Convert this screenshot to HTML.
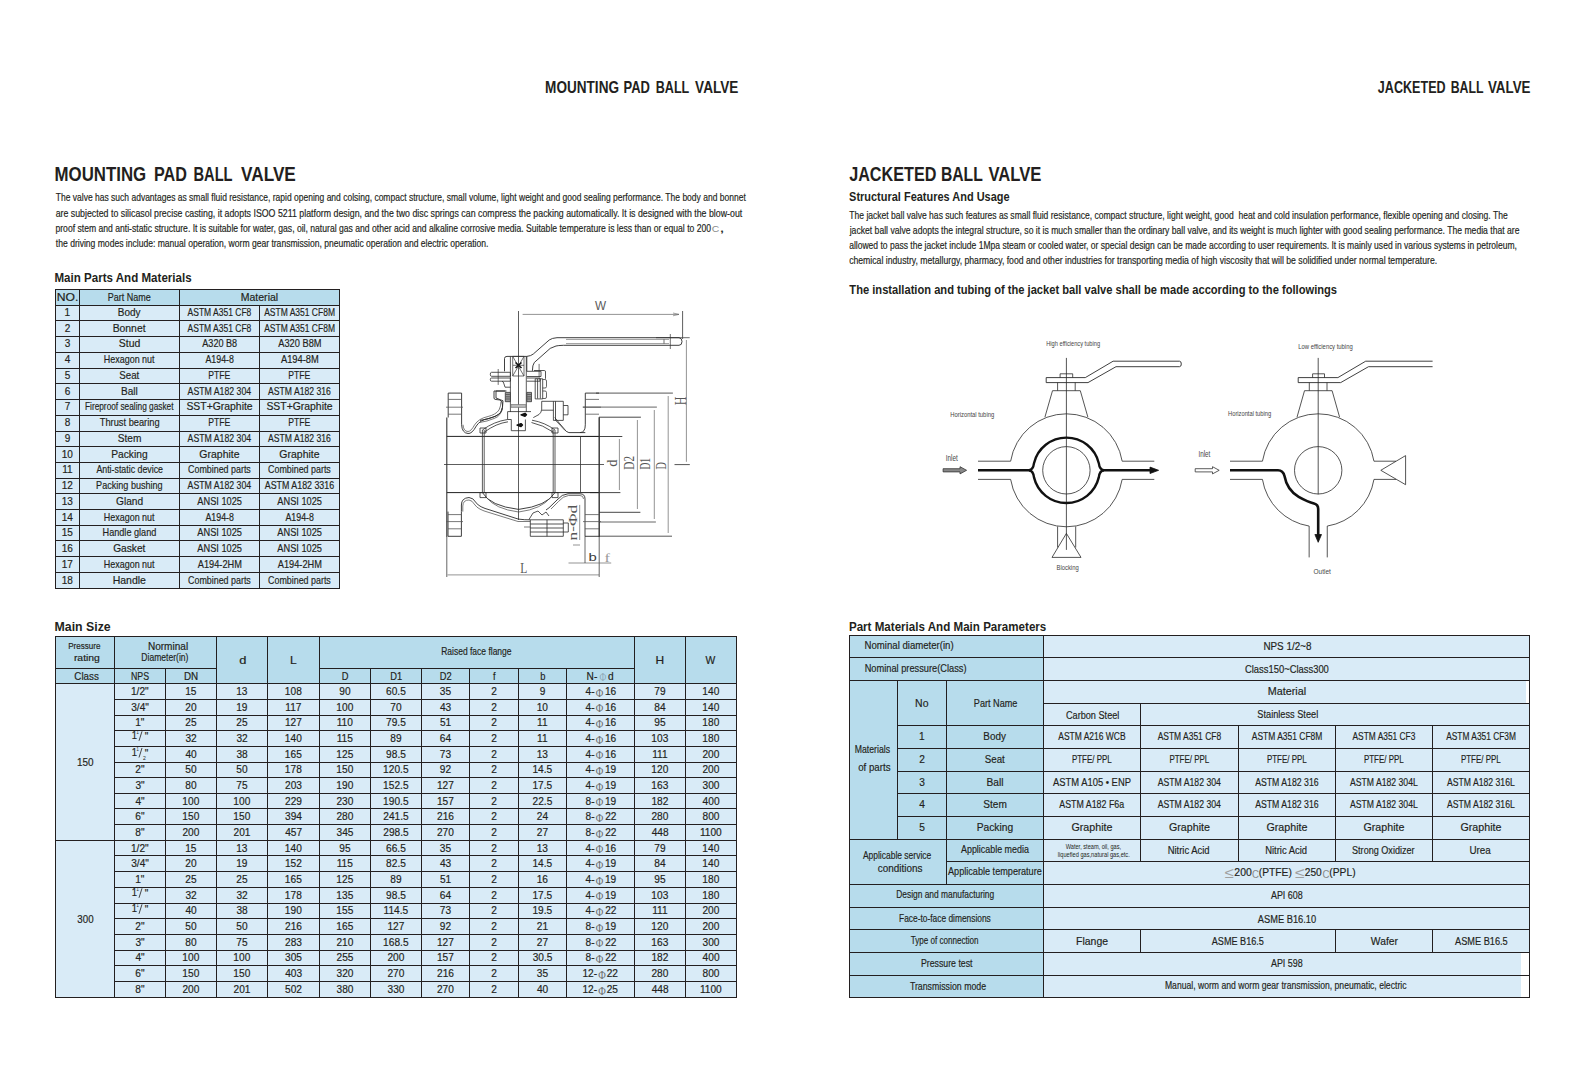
<!DOCTYPE html><html><head><meta charset="utf-8"><style>html,body{margin:0;padding:0;background:#fff;}body{width:1585px;height:1069px;overflow:hidden;position:relative;}svg{position:absolute;left:0;top:0;}text{white-space:pre;}</style></head><body>
<svg width="1585" height="1069" viewBox="0 0 1585 1069">
<rect x="55.00" y="289.00" width="284.00" height="16.00" fill="#b7dcec"/>
<rect x="55.00" y="305.00" width="284.00" height="283.00" fill="#d9ebf7"/>
<rect x="55.00" y="636.00" width="681.00" height="47.00" fill="#b7dcec"/>
<rect x="55.00" y="683.00" width="681.00" height="314.00" fill="#d9ebf7"/>
<rect x="849.00" y="635.00" width="194.00" height="362.00" fill="#b7dcec"/>
<rect x="1043.00" y="635.00" width="486.00" height="362.00" fill="#d9ebf7"/>
<rect x="1526.00" y="681.00" width="3.00" height="22.00" fill="#ffffff"/>
<rect x="1521.00" y="953.00" width="8.00" height="44.00" fill="#ffffff"/>
<rect x="55" y="289" width="285" height="1" fill="#231f20"/>
<rect x="55" y="305" width="285" height="1" fill="#231f20"/>
<rect x="55" y="320" width="285" height="1" fill="#231f20"/>
<rect x="55" y="336" width="285" height="1" fill="#231f20"/>
<rect x="55" y="352" width="285" height="1" fill="#231f20"/>
<rect x="55" y="368" width="285" height="1" fill="#231f20"/>
<rect x="55" y="383" width="285" height="1" fill="#231f20"/>
<rect x="55" y="399" width="285" height="1" fill="#231f20"/>
<rect x="55" y="415" width="285" height="1" fill="#231f20"/>
<rect x="55" y="431" width="285" height="1" fill="#231f20"/>
<rect x="55" y="446" width="285" height="1" fill="#231f20"/>
<rect x="55" y="462" width="285" height="1" fill="#231f20"/>
<rect x="55" y="478" width="285" height="1" fill="#231f20"/>
<rect x="55" y="493" width="285" height="1" fill="#231f20"/>
<rect x="55" y="509" width="285" height="1" fill="#231f20"/>
<rect x="55" y="525" width="285" height="1" fill="#231f20"/>
<rect x="55" y="540" width="285" height="1" fill="#231f20"/>
<rect x="55" y="556" width="285" height="1" fill="#231f20"/>
<rect x="55" y="572" width="285" height="1" fill="#231f20"/>
<rect x="55" y="588" width="285" height="1" fill="#231f20"/>
<rect x="55" y="289" width="1" height="300" fill="#231f20"/>
<rect x="79" y="289" width="1" height="300" fill="#231f20"/>
<rect x="179" y="289" width="1" height="300" fill="#231f20"/>
<rect x="259" y="305" width="1" height="284" fill="#231f20"/>
<rect x="339" y="289" width="1" height="300" fill="#231f20"/>
<rect x="55" y="636" width="682" height="1" fill="#231f20"/>
<rect x="55" y="997" width="682" height="1" fill="#231f20"/>
<rect x="55" y="668" width="162" height="1" fill="#231f20"/>
<rect x="319" y="668" width="316" height="1" fill="#231f20"/>
<rect x="55" y="683" width="682" height="1" fill="#231f20"/>
<rect x="114" y="699" width="623" height="1" fill="#231f20"/>
<rect x="114" y="715" width="623" height="1" fill="#231f20"/>
<rect x="114" y="730" width="623" height="1" fill="#231f20"/>
<rect x="114" y="746" width="623" height="1" fill="#231f20"/>
<rect x="114" y="762" width="623" height="1" fill="#231f20"/>
<rect x="114" y="777" width="623" height="1" fill="#231f20"/>
<rect x="114" y="793" width="623" height="1" fill="#231f20"/>
<rect x="114" y="808" width="623" height="1" fill="#231f20"/>
<rect x="114" y="824" width="623" height="1" fill="#231f20"/>
<rect x="55" y="840" width="682" height="1" fill="#231f20"/>
<rect x="114" y="855" width="623" height="1" fill="#231f20"/>
<rect x="114" y="871" width="623" height="1" fill="#231f20"/>
<rect x="114" y="887" width="623" height="1" fill="#231f20"/>
<rect x="114" y="903" width="623" height="1" fill="#231f20"/>
<rect x="114" y="918" width="623" height="1" fill="#231f20"/>
<rect x="114" y="934" width="623" height="1" fill="#231f20"/>
<rect x="114" y="950" width="623" height="1" fill="#231f20"/>
<rect x="114" y="965" width="623" height="1" fill="#231f20"/>
<rect x="114" y="981" width="623" height="1" fill="#231f20"/>
<rect x="55" y="636" width="1" height="362" fill="#231f20"/>
<rect x="114" y="636" width="1" height="362" fill="#231f20"/>
<rect x="216" y="636" width="1" height="362" fill="#231f20"/>
<rect x="267" y="636" width="1" height="362" fill="#231f20"/>
<rect x="319" y="636" width="1" height="362" fill="#231f20"/>
<rect x="634" y="636" width="1" height="362" fill="#231f20"/>
<rect x="685" y="636" width="1" height="362" fill="#231f20"/>
<rect x="736" y="636" width="1" height="362" fill="#231f20"/>
<rect x="165" y="668" width="1" height="330" fill="#231f20"/>
<rect x="370" y="668" width="1" height="330" fill="#231f20"/>
<rect x="421" y="668" width="1" height="330" fill="#231f20"/>
<rect x="469" y="668" width="1" height="330" fill="#231f20"/>
<rect x="518" y="668" width="1" height="330" fill="#231f20"/>
<rect x="566" y="668" width="1" height="330" fill="#231f20"/>
<line x1="142.00" y1="731.30" x2="139.00" y2="740.80" stroke="#333" stroke-width="0.9"/>
<line x1="142.00" y1="748.00" x2="139.00" y2="757.50" stroke="#333" stroke-width="0.9"/>
<line x1="142.00" y1="888.30" x2="139.00" y2="897.80" stroke="#333" stroke-width="0.9"/>
<line x1="142.00" y1="904.30" x2="139.00" y2="913.80" stroke="#333" stroke-width="0.9"/>
<rect x="849" y="635" width="681" height="1" fill="#231f20"/>
<rect x="849" y="657" width="681" height="1" fill="#231f20"/>
<rect x="849" y="680" width="681" height="1" fill="#231f20"/>
<rect x="849" y="839" width="681" height="1" fill="#231f20"/>
<rect x="849" y="884" width="681" height="1" fill="#231f20"/>
<rect x="849" y="907" width="681" height="1" fill="#231f20"/>
<rect x="849" y="929" width="681" height="1" fill="#231f20"/>
<rect x="849" y="952" width="681" height="1" fill="#231f20"/>
<rect x="849" y="975" width="681" height="1" fill="#231f20"/>
<rect x="849" y="997" width="681" height="1" fill="#231f20"/>
<rect x="1043" y="703" width="487" height="1" fill="#231f20"/>
<rect x="897" y="725" width="633" height="1" fill="#231f20"/>
<rect x="897" y="748" width="633" height="1" fill="#231f20"/>
<rect x="897" y="771" width="633" height="1" fill="#231f20"/>
<rect x="897" y="793" width="633" height="1" fill="#231f20"/>
<rect x="897" y="816" width="633" height="1" fill="#231f20"/>
<rect x="946" y="861" width="584" height="1" fill="#231f20"/>
<rect x="849" y="635" width="1" height="363" fill="#231f20"/>
<rect x="1529" y="635" width="1" height="363" fill="#231f20"/>
<rect x="1043" y="635" width="1" height="363" fill="#231f20"/>
<rect x="897" y="680" width="1" height="160" fill="#231f20"/>
<rect x="946" y="680" width="1" height="205" fill="#231f20"/>
<rect x="1140" y="703" width="1" height="159" fill="#231f20"/>
<rect x="1140" y="929" width="1" height="24" fill="#231f20"/>
<rect x="1238" y="725" width="1" height="137" fill="#231f20"/>
<rect x="1335" y="725" width="1" height="137" fill="#231f20"/>
<rect x="1432" y="725" width="1" height="137" fill="#231f20"/>
<rect x="1335" y="929" width="1" height="24" fill="#231f20"/>
<rect x="1432" y="929" width="1" height="24" fill="#231f20"/>
<path d="M518.5 311 V520" fill="none" stroke="#333" stroke-width="0.8" stroke-linejoin="round" />
<path d="M444 464.5 H604" fill="none" stroke="#333" stroke-width="0.8" stroke-linejoin="round" />
<path d="M522.6 314.4 H679" fill="none" stroke="#666" stroke-width="0.7" stroke-linejoin="round" />
<path d="M673 313 L679 314.4 L673 315.8" fill="none" stroke="#666" stroke-width="0.6" stroke-linejoin="round" />
<path d="M682.6 311 V339" fill="none" stroke="#333" stroke-width="0.8" stroke-linejoin="round" />
<path d="M686.4 340 V461.8" fill="none" stroke="#666" stroke-width="0.7" stroke-linejoin="round" />
<path d="M656 337.7 H689.7" fill="none" stroke="#444" stroke-width="0.8" stroke-linejoin="round" />
<path d="M674.5 464.6 H689.8" fill="none" stroke="#555" stroke-width="1.0" stroke-linejoin="round" />
<path d="M596 393.1 H672.9 M599 536.2 H672" fill="none" stroke="#444" stroke-width="0.9" stroke-linejoin="round" />
<path d="M668.2 396 V533" fill="none" stroke="#666" stroke-width="0.7" stroke-linejoin="round" />
<path d="M582.7 407.1 H656.9 M599 522 H655.9" fill="none" stroke="#555" stroke-width="0.9" stroke-linejoin="round" />
<path d="M654.3 410 V519" fill="none" stroke="#666" stroke-width="0.7" stroke-linejoin="round" />
<path d="M599 417.2 H640.9 M599 512.3 H640.4" fill="none" stroke="#333" stroke-width="0.9" stroke-linejoin="round" />
<path d="M637.4 420 V509" fill="none" stroke="#666" stroke-width="0.7" stroke-linejoin="round" />
<path d="M560 436.5 H622.3 M590 492.6 H620.4" fill="none" stroke="#333" stroke-width="0.9" stroke-linejoin="round" />
<path d="M619.4 439 V490" fill="none" stroke="#666" stroke-width="0.7" stroke-linejoin="round" />
<path d="M447.5 574.9 H599" fill="none" stroke="#666" stroke-width="0.7" stroke-linejoin="round" />
<path d="M446.8 537 V577 M599.2 537 V577" fill="none" stroke="#555" stroke-width="0.9" stroke-linejoin="round" />
<path d="M568.5 563 H611.2" fill="none" stroke="#666" stroke-width="0.7" stroke-linejoin="round" />
<path d="M585 536.3 V563" fill="none" stroke="#444" stroke-width="0.8" stroke-linejoin="round" />
<path d="M579.7 504.9 V540" fill="none" stroke="#666" stroke-width="0.7" stroke-linejoin="round" />
<path d="M573 545 H580" fill="none" stroke="#666" stroke-width="0.7" stroke-linejoin="round" />
<path d="M446.8 436.4 H599.2 M446.8 492.6 H599.2" fill="none" stroke="#222" stroke-width="1.0" stroke-linejoin="round" />
<path d="M580.5 436.4 V492.6" fill="none" stroke="#333" stroke-width="0.8" stroke-linejoin="round" />
<path d="M599.2 417.2 V537" fill="none" stroke="#333" stroke-width="1.4" stroke-linejoin="round" />
<path d="M446.8 417.5 V537" fill="none" stroke="#333" stroke-width="1.1" stroke-linejoin="round" />
<path d="M448.2 393.1 V417.5 M461.6 393.1 V424.7 M448.2 393.1 H461.6" fill="none" stroke="#2a2a2a" stroke-width="0.9" stroke-linejoin="round" />
<path d="M448.2 399.4 H461.6 M446 407.2 H463 M448.2 414.2 H461.6" fill="none" stroke="#555" stroke-width="0.8" stroke-linejoin="round" />
<path d="M448 511.6 V536.3 H461.4 V511.6" fill="none" stroke="#2a2a2a" stroke-width="0.9" stroke-linejoin="round" />
<path d="M448 514.6 H461.4 M446 521.6 H463 M448 528.8 H461.4" fill="none" stroke="#555" stroke-width="0.8" stroke-linejoin="round" />
<path d="M585.3 393.1 V424.8 M599 393.1 H585.3" fill="none" stroke="#2a2a2a" stroke-width="0.9" stroke-linejoin="round" />
<path d="M585.3 399.4 H599 M583 407.2 H601 M585.3 414.2 H599" fill="none" stroke="#555" stroke-width="0.8" stroke-linejoin="round" />
<path d="M585 498.9 V536.3 H599" fill="none" stroke="#2a2a2a" stroke-width="0.9" stroke-linejoin="round" />
<path d="M585 514.6 H599 M583 521.6 H601 M585 528.8 H599" fill="none" stroke="#555" stroke-width="0.8" stroke-linejoin="round" />
<path d="M461.4 511.6 V505 Q461.4 498 469 497.5 Q473 497.5 476.4 503 Q479 507 490 510 L518.3 519.1 Q526 520 528.8 519.8 L530.3 519.8" fill="none" stroke="#2a2a2a" stroke-width="0.9" stroke-linejoin="round" />
<path d="M462.8 511.6 V506 Q463 500 469 500 Q472 500 475 505 Q478 509.5 489 512.5 L518 521.5 L530.3 521.5" fill="none" stroke="#444" stroke-width="0.7" stroke-linejoin="round" />
<path d="M461.6 424.7 Q462 433 468 433.5 Q472 434 476.3 426 Q480 420 488.9 418.4 Q497 416.5 500.9 412.1 Q503 408 503 400.8 L496 398 L496 391 H506.5" fill="none" stroke="#2a2a2a" stroke-width="0.9" stroke-linejoin="round" />
<path d="M463 424.7 Q463.5 431.5 468 431.5 Q471 431.5 474.5 425 Q478.5 418.5 488 416.5 Q496 414.5 499 410 Q501 406 501 401.5" fill="none" stroke="#444" stroke-width="0.7" stroke-linejoin="round" />
<path d="M585.3 424.8 Q585.3 432.6 580 432.6" fill="none" stroke="#2a2a2a" stroke-width="0.9" stroke-linejoin="round" />
<path d="M585 498.9 Q585 493.8 580 493.8 L568 493.8 Q562 494 557 500 L549 507.8 L546 510" fill="none" stroke="#2a2a2a" stroke-width="0.9" stroke-linejoin="round" />
<path d="M583.5 498.9 Q583.5 495.5 580 495.5 L568.5 495.5 Q563 496 558.5 501.5 L551 509" fill="none" stroke="#444" stroke-width="0.7" stroke-linejoin="round" />
<path d="M482.4 430 V492.6 M484.2 430 V492.6 M553.2 430 V492.6 M555 430 V492.6" fill="none" stroke="#333" stroke-width="0.8" stroke-linejoin="round" />
<path d="M482.4 492.6 Q490 506 518.6 509.4 Q547 506 555 492.6" fill="none" stroke="#2a2a2a" stroke-width="0.9" stroke-linejoin="round" />
<path d="M486 497 Q495 509 518.6 512 Q542 509 551 497" fill="none" stroke="#444" stroke-width="0.7" stroke-linejoin="round" />
<path d="M482.4 430 Q494 421.5 507.6 419.5 M484.5 432 Q496 423.5 508 421.8 M532 420.2 Q545 422.5 555 430 M531.5 422.5 Q543 425 553 432" fill="none" stroke="#2a2a2a" stroke-width="0.8" stroke-linejoin="round" />
<path d="M480 428 h6 v5 h-6 z M552 428 h6 v5 h-6 z M480 492.6 h6 v5 h-6 z M552 492.6 h6 v5 h-6 z" fill="none" stroke="#2a2a2a" stroke-width="0.8" stroke-linejoin="round" />
<path d="M504.5 371.3 V358.5 Q504.5 356.4 507 356.4 H526.8 V371.3" fill="none" stroke="#2a2a2a" stroke-width="0.9" stroke-linejoin="round" />
<path d="M512.7 356.4 V376 H524 V356.4 Z M512.7 356.4 L524 376 M524 356.4 L512.7 376 M513 365.3 H524" fill="none" stroke="#333" stroke-width="0.7" stroke-linejoin="round" />
<path d="M515.5 362.5 L521.5 368 M521.5 362.5 L515.5 368" fill="none" stroke="#111" stroke-width="1.6" stroke-linejoin="round" />
<path d="M510.4 356.4 V412 M526.3 356.4 V412" fill="none" stroke="#333" stroke-width="0.8" stroke-linejoin="round" />
<path d="M491.5 372.3 H510.4 V376.3 H491.5 Q490.3 376.3 490.3 374.3 Q490.3 372.3 491.5 372.3 Z" fill="none" stroke="#2a2a2a" stroke-width="0.8" stroke-linejoin="round" />
<path d="M491.5 378 H510.4 V381.2 H491.5 Q490.3 381.2 490.3 379.6 Q490.3 378 491.5 378 Z" fill="none" stroke="#2a2a2a" stroke-width="0.8" stroke-linejoin="round" />
<path d="M498.2 369 V384.9" fill="none" stroke="#333" stroke-width="0.7" stroke-linejoin="round" />
<path d="M502 381.2 Q503.5 381.5 504 384 L505 387.2 H510.4" fill="none" stroke="#2a2a2a" stroke-width="0.8" stroke-linejoin="round" />
<path d="M526.8 371.3 H541 V376.5 H526.8 M526.8 378 H540 V381.2 H526.8" fill="none" stroke="#2a2a2a" stroke-width="0.8" stroke-linejoin="round" />
<path d="M534 370.5 H544.5 Q545.5 370.5 545.5 372 V378.8" fill="none" stroke="#2a2a2a" stroke-width="0.8" stroke-linejoin="round" />
<path d="M539.1 363.9 V377" fill="none" stroke="#333" stroke-width="0.7" stroke-linejoin="round" />
<path d="M535.2 378.8 H542.7 V398.9 H535.2 Z M537.6 379 V398.5 M540.3 379 V398.5" fill="none" stroke="#2a2a2a" stroke-width="0.8" stroke-linejoin="round" />
<path d="M542.7 379.5 H545 Q546.5 379.5 546.5 381 V386.5 Q546.5 388 545 388 H542.7 M542.7 391 H545 Q546.5 391 546.5 392.5 V397 Q546.5 398.5 545 398.5 H542.7" fill="none" stroke="#2a2a2a" stroke-width="0.7" stroke-linejoin="round" />
<path d="M505.3 391 H494 V398 Q494 399.5 496 399.5 L500 400 Q502.5 401 502.5 405 V407.4 Q502 413 496 416 Q488 419.5 480 420.4" fill="none" stroke="#2a2a2a" stroke-width="0.9" stroke-linejoin="round" />
<path d="M502.5 407.4 Q501.5 416 494 418.5 Q487 421.5 480 422.4" fill="none" stroke="#444" stroke-width="0.7" stroke-linejoin="round" />
<path d="M505.3 392.4 h5.1 v9.3 h-5.1 z M526.8 392.4 h4.7 v9.3 h-4.7 z" fill="#999" stroke="#333" stroke-width="0.8" stroke-linejoin="round" />
<path d="M505.8 394.5 h4 M505.8 396.8 h4 M505.8 399 h4 M527.3 394.5 h3.7 M527.3 396.8 h3.7 M527.3 399 h3.7" fill="none" stroke="#222" stroke-width="0.5" stroke-linejoin="round" />
<path d="M510.9 404.5 h14.9 v2.9 h-14.9 z" fill="#bbb" stroke="#666" stroke-width="0.6" stroke-linejoin="round" />
<path d="M507.6 411.6 H531 M507.6 411.6 V419.5 H511.3 V430.7 H525.4 V419.5" fill="none" stroke="#2a2a2a" stroke-width="0.8" stroke-linejoin="round" />
<path d="M521 414.8 l4 -1.5 l1.5 1.5 l-1.5 1.5 z M517 425.1 l4 -1.5 l1.5 1.5 l-1.5 1.5 z" fill="#111" stroke="#111" stroke-width="1.4" stroke-linejoin="round" />
<path d="M541.7 401.3 H563.3 V420.4 H553.4 V401.3 M541.7 410.2 H553.4 M563.3 405.5 H568 V414.8 H563.3 M555.5 401.3 V420.4" fill="none" stroke="#2a2a2a" stroke-width="0.8" stroke-linejoin="round" />
<path d="M541.7 401.3 V409.2 Q541.5 412.5 539 414.5 L533.3 417.6" fill="none" stroke="#2a2a2a" stroke-width="0.8" stroke-linejoin="round" />
<path d="M554.8 417.6 Q559 423 564.2 428.9 Q566 432 568.9 432.6 H585.3" fill="none" stroke="#2a2a2a" stroke-width="0.9" stroke-linejoin="round" />
<path d="M555.5 420.4 Q560 425 565 430.5" fill="none" stroke="#444" stroke-width="0.7" stroke-linejoin="round" />
<path d="M526.8 356.4 Q531 356 533.3 354 L549.2 340 Q552 338 557 337.7 H679 Q682 338 682 341.5 Q682 345.3 679 345.3 H563.3 Q558 345.5 556 346 L550.2 348.4 L534.3 362.5 Q532.4 365 532.4 370.9" fill="none" stroke="#2a2a2a" stroke-width="0.9" stroke-linejoin="round" />
<path d="M566 339.4 H669 M566 343.6 H669" fill="none" stroke="#555" stroke-width="0.6" stroke-linejoin="round" />
<path d="M670.3 334 V349 M664 339.4 V343.6" fill="none" stroke="#333" stroke-width="0.7" stroke-linejoin="round" />
<path d="M530.3 519.8 h33 v16.5 h-33 z M547 519.8 v16.5 M530.3 524 H563.3 M530.3 528 H563.3 M530.3 532 H563.3" fill="none" stroke="#2a2a2a" stroke-width="0.8" stroke-linejoin="round" />
<path d="M563.3 523 h5 v9 h-5" fill="none" stroke="#2a2a2a" stroke-width="0.8" stroke-linejoin="round" />
<path d="M524 527 H530.3" fill="none" stroke="#444" stroke-width="0.7" stroke-linejoin="round" />
<path d="M528.8 519.8 L533 513 L538 511 L542 515 L546 512 L549 516" fill="none" stroke="#2a2a2a" stroke-width="0.8" stroke-linejoin="round" />
<path d="M1066.4 357.9 V549.9" fill="none" stroke="#2a2a2a" stroke-width="0.8" stroke-linejoin="round" />
<path d="M1046.2 377.6 H1085.3 L1113.1 361.2 H1179.5 Q1181.3 361.2 1181.3 364 Q1181.3 366.7 1179.5 366.7 H1116 L1088 382.6 H1046.2 Z" fill="none" stroke="#2a2a2a" stroke-width="0.9" stroke-linejoin="round" />
<path d="M1060.1 377.6 V373.8 H1072.7 V377.6" fill="none" stroke="#2a2a2a" stroke-width="0.8" stroke-linejoin="round" />
<path d="M1057.6 382.6 V390.7 M1075.2 382.6 V390.7 M1052.5 390.7 H1080.3" fill="none" stroke="#2a2a2a" stroke-width="0.8" stroke-linejoin="round" />
<path d="M1052.5 390.7 L1044.9 417.2 M1080.3 390.7 L1087.9 417.2" fill="none" stroke="#2a2a2a" stroke-width="0.8" stroke-linejoin="round" />
<path d="M1010.64 461.20 A56.5 56.5 0 0 1 1122.16 461.20" fill="none" stroke="#2a2a2a" stroke-width="0.8" stroke-linejoin="round" />
<path d="M1122.16 479.40 A56.5 56.5 0 0 1 1010.64 479.40" fill="none" stroke="#2a2a2a" stroke-width="0.8" stroke-linejoin="round" />
<path d="M978 461.2 H1010.64 M978 479.40000000000003 H1010.64" fill="none" stroke="#2a2a2a" stroke-width="0.8" stroke-linejoin="round" />
<path d="M1122.16 461.2 H1154.3 M1122.16 479.40000000000003 H1154.3" fill="none" stroke="#2a2a2a" stroke-width="0.8" stroke-linejoin="round" />
<path d="M1029 470.3 Q1033.2 469.8 1034 463.2 A33.3 33.3 0 0 1 1098.8 463.2 Q1099.6 469.8 1103.8 470.3" fill="none" stroke="#111" stroke-width="2.4" stroke-linejoin="round" />
<path d="M1029 470.3 Q1033.2 470.8 1034 477.4 A33.3 33.3 0 0 0 1098.8 477.4 Q1099.6 470.8 1103.8 470.3" fill="none" stroke="#111" stroke-width="2.4" stroke-linejoin="round" />
<path d="M1042.7 470.3 A23.7 23.7 0 1 1 1090.1000000000001 470.3 A23.7 23.7 0 1 1 1042.7 470.3 Z" fill="none" stroke="#2a2a2a" stroke-width="0.8" stroke-linejoin="round" />
<path d="M978 470.3 H1030" fill="none" stroke="#111" stroke-width="2.6" stroke-linejoin="round" />
<path d="M1103 470.3 H1152" fill="none" stroke="#111" stroke-width="2.6" stroke-linejoin="round" />
<path d="M1150 467.1 L1158.6 470.3 L1150 473.5 Z" fill="#111" stroke="#111" stroke-width="0.8" stroke-linejoin="round" />
<path d="M943.1 468.7 H960 V466.7 L966.6 470.3 L960 473.90000000000003 V471.90000000000003 H943.1 Z" fill="#888" stroke="#333" stroke-width="0.8" stroke-linejoin="round" />
<path d="M1057.6 526.5 V547.5 M1075.7 526.5 V547.5" fill="none" stroke="#2a2a2a" stroke-width="0.8" stroke-linejoin="round" />
<path d="M1066.4 533.4 L1052 557.4 H1081 Z" fill="none" stroke="#2a2a2a" stroke-width="0.8" stroke-linejoin="round" />
<path d="M1318.2 357.9 V494.3" fill="none" stroke="#2a2a2a" stroke-width="0.8" stroke-linejoin="round" />
<path d="M1432.6 361.2 H1365.7 L1337.9 377.6 H1298.2 V382.6 H1340.7 L1368.5 366.7 H1432.6" fill="none" stroke="#2a2a2a" stroke-width="0.9" stroke-linejoin="round" />
<path d="M1312.6 377.6 V373.8 H1324.5 V377.6" fill="none" stroke="#2a2a2a" stroke-width="0.8" stroke-linejoin="round" />
<path d="M1309.3 382.6 V390.7 M1327 382.6 V390.7 M1304.5 390.7 H1332.1" fill="none" stroke="#2a2a2a" stroke-width="0.8" stroke-linejoin="round" />
<path d="M1304.5 390.7 L1297 417.2 M1332.1 390.7 L1339.6 417.2" fill="none" stroke="#2a2a2a" stroke-width="0.8" stroke-linejoin="round" />
<path d="M1262.44 461.20 A56.5 56.5 0 0 1 1373.96 461.20" fill="none" stroke="#2a2a2a" stroke-width="0.8" stroke-linejoin="round" />
<path d="M1373.96 479.40 A56.5 56.5 0 0 1 1327.25 526.07" fill="none" stroke="#2a2a2a" stroke-width="0.8" stroke-linejoin="round" />
<path d="M1309.15 526.07 A56.5 56.5 0 0 1 1262.44 479.40" fill="none" stroke="#2a2a2a" stroke-width="0.8" stroke-linejoin="round" />
<path d="M1230 461.2 H1262.44 M1230 479.40000000000003 H1262.44" fill="none" stroke="#2a2a2a" stroke-width="0.8" stroke-linejoin="round" />
<path d="M1373.96 461.2 H1396 M1373.96 479.40000000000003 H1396" fill="none" stroke="#2a2a2a" stroke-width="0.8" stroke-linejoin="round" />
<path d="M1380.8 470.3 L1405.6 455.6 V484.7 Z" fill="none" stroke="#2a2a2a" stroke-width="0.8" stroke-linejoin="round" />
<path d="M1309.15 526.07 V557.4 M1327.25 526.07 V557.4" fill="none" stroke="#2a2a2a" stroke-width="0.8" stroke-linejoin="round" />
<path d="M1294.5 470.3 A23.7 23.7 0 1 1 1341.9 470.3 A23.7 23.7 0 1 1 1294.5 470.3 Z" fill="none" stroke="#2a2a2a" stroke-width="0.8" stroke-linejoin="round" />
<path d="M1230 470.3 H1278 Q1283 470.3 1284.5 476 Q1287 490 1298.7 496.8 Q1308 502 1314 503.5 Q1318.2 504.5 1318.2 509 V537" fill="none" stroke="#111" stroke-width="2.6" stroke-linejoin="round" />
<path d="M1314.9 534.5 L1318.2 542.3 L1321.5 534.5 Z" fill="#111" stroke="#111" stroke-width="0.8" stroke-linejoin="round" />
<path d="M1195.2 468.7 H1212.5 V466.7 L1219.2 470.3 L1212.5 473.90000000000003 V471.90000000000003 H1195.2 Z" fill="#fff" stroke="#333" stroke-width="0.8" stroke-linejoin="round" />
<text transform="translate(546.00,92.90) scale(0.8421,1) translate(-1.08,0)" style="font-family:'Liberation Sans';font-size:16.13px;font-weight:bold" fill="#231f20">MOUNTING</text>
<text transform="translate(624.40,92.90) scale(0.8049,1) translate(-1.08,0)" style="font-family:'Liberation Sans';font-size:16.13px;font-weight:bold" fill="#231f20">PAD</text>
<text transform="translate(656.60,92.90) scale(0.7807,1) translate(-1.08,0)" style="font-family:'Liberation Sans';font-size:16.13px;font-weight:bold" fill="#231f20">BALL</text>
<text transform="translate(695.20,92.90) scale(0.8423,1) translate(-0.11,0)" style="font-family:'Liberation Sans';font-size:16.13px;font-weight:bold" fill="#231f20">VALVE</text>
<text transform="translate(55.70,180.70) scale(0.8332,1) translate(-1.35,0)" style="font-family:'Liberation Sans';font-size:20.2px;font-weight:bold" fill="#231f20">MOUNTING</text>
<text transform="translate(155.00,180.70) scale(0.8016,1) translate(-1.35,0)" style="font-family:'Liberation Sans';font-size:20.2px;font-weight:bold" fill="#231f20">PAD</text>
<text transform="translate(194.40,180.70) scale(0.7271,1) translate(-1.35,0)" style="font-family:'Liberation Sans';font-size:20.2px;font-weight:bold" fill="#231f20">BALL</text>
<text transform="translate(241.10,180.70) scale(0.8536,1) translate(-0.14,0)" style="font-family:'Liberation Sans';font-size:20.2px;font-weight:bold" fill="#231f20">VALVE</text>
<text transform="translate(55.20,281.80) scale(0.8664,1) translate(-0.89,0)" style="font-family:'Liberation Sans';font-size:13.37px;font-weight:bold" fill="#231f20">Main Parts And Materials</text>
<text transform="translate(55.40,630.80) scale(0.9524,1) translate(-0.87,0)" style="font-family:'Liberation Sans';font-size:12.94px;font-weight:bold" fill="#231f20">Main Size</text>
<text transform="translate(1378.00,92.70) scale(0.7811,1) translate(-0.24,0)" style="font-family:'Liberation Sans';font-size:16.13px;font-weight:bold" fill="#231f20">JACKETED</text>
<text transform="translate(1451.50,92.70) scale(0.7638,1) translate(-1.08,0)" style="font-family:'Liberation Sans';font-size:16.13px;font-weight:bold" fill="#231f20">BALL</text>
<text transform="translate(1488.00,92.70) scale(0.8304,1) translate(-0.11,0)" style="font-family:'Liberation Sans';font-size:16.13px;font-weight:bold" fill="#231f20">VALVE</text>
<text transform="translate(849.40,180.70) scale(0.8026,1) translate(-0.31,0)" style="font-family:'Liberation Sans';font-size:20.2px;font-weight:bold" fill="#231f20">JACKETED</text>
<text transform="translate(942.00,180.70) scale(0.7773,1) translate(-1.35,0)" style="font-family:'Liberation Sans';font-size:20.2px;font-weight:bold" fill="#231f20">BALL</text>
<text transform="translate(988.50,180.70) scale(0.8252,1) translate(-0.14,0)" style="font-family:'Liberation Sans';font-size:20.2px;font-weight:bold" fill="#231f20">VALVE</text>
<text transform="translate(849.40,201.25) scale(0.8890,1) translate(-0.36,0)" style="font-family:'Liberation Sans';font-size:12.35px;font-weight:bold" fill="#231f20">Structural Features And Usage</text>
<text transform="translate(849.50,293.80) scale(0.8430,1) translate(-0.15,0)" style="font-family:'Liberation Sans';font-size:13.23px;font-weight:bold" fill="#231f20">The installation and tubing of the jacket ball valve shall be made according to the followings</text>
<text transform="translate(849.70,630.70) scale(0.9286,1) translate(-0.84,0)" style="font-family:'Liberation Sans';font-size:12.5px;font-weight:bold" fill="#231f20">Part Materials And Main Parameters</text>
<text transform="translate(56.00,200.90) scale(0.8021,1) translate(-0.24,0)" style="font-family:'Liberation Sans';font-size:10.61px;font-weight:normal;stroke:#231f20;stroke-width:0.18px" fill="#231f20">The valve has such advantages as small fluid resistance, rapid opening and colsing, compact structure, small volume, light weight and good sealing performance. The body and bonnet</text>
<text transform="translate(56.00,216.50) scale(0.8304,1) translate(-0.45,0)" style="font-family:'Liberation Sans';font-size:10.61px;font-weight:normal;stroke:#231f20;stroke-width:0.18px" fill="#231f20">are subjected to silicasol precise casting, it adopts ISOO 5211 platform design, and the two disc springs can compress the packing automatically. It is designed with the blow-out</text>
<text transform="translate(56.00,231.70) scale(0.8112,1) translate(-0.68,0)" style="font-family:'Liberation Sans';font-size:10.61px;font-weight:normal;stroke:#231f20;stroke-width:0.18px" fill="#231f20">proof stem and anti-static structure. It is suitable for water, gas, oil, natural gas and other acid and alkaline corrosive media. Suitable temperature is less than or equal to 200</text>
<text transform="translate(56.00,246.70) scale(0.8087,1) translate(-0.16,0)" style="font-family:'Liberation Sans';font-size:10.61px;font-weight:normal;stroke:#231f20;stroke-width:0.18px" fill="#231f20">the driving modes include: manual operation, worm gear transmission, pneumatic operation and electric operation.</text>
<text transform="translate(712.20,232.20) scale(1.0554,1) translate(-0.50,0)" style="font-family:'Liberation Sans';font-size:9.88px;font-weight:normal" fill="#8a8a8a">C</text>
<text transform="translate(721.30,231.70) scale(1.5368,1) translate(-0.95,0)" style="font-family:'Liberation Sans';font-size:10.61px;font-weight:normal;stroke:#231f20;stroke-width:0.18px" fill="#231f20">,</text>
<text transform="translate(849.50,218.60) scale(0.8068,1) translate(-0.24,0)" style="font-family:'Liberation Sans';font-size:10.61px;font-weight:normal;stroke:#231f20;stroke-width:0.18px" fill="#231f20">The jacket ball valve has such features as small fluid resistance, compact structure, light weight, good  heat and cold insulation performance, flexible opening and closing. The</text>
<text transform="translate(849.50,233.60) scale(0.8121,1) translate(0.26,0)" style="font-family:'Liberation Sans';font-size:10.61px;font-weight:normal;stroke:#231f20;stroke-width:0.18px" fill="#231f20">jacket ball valve adopts the integral structure, so it is much smaller than the ordinary ball valve, and its weight is much lighter with good sealing performance. The media that are</text>
<text transform="translate(849.50,248.60) scale(0.8056,1) translate(-0.45,0)" style="font-family:'Liberation Sans';font-size:10.61px;font-weight:normal;stroke:#231f20;stroke-width:0.18px" fill="#231f20">allowed to pass the jacket include 1Mpa steam or cooled water, or special design can be made according to user requirements. It is mainly used in various systems in petroleum,</text>
<text transform="translate(849.50,264.40) scale(0.8175,1) translate(-0.45,0)" style="font-family:'Liberation Sans';font-size:10.61px;font-weight:normal;stroke:#231f20;stroke-width:0.18px" fill="#231f20">chemical industry, metallurgy, pharmacy, food and other industries for transporting media of high viscosity that will be solidified under normal temperature.</text>
<text transform="translate(67.50,300.85) scale(1.1161,1) translate(-9.63,0)" style="font-family:'Liberation Sans';font-size:10.9px;font-weight:normal;stroke:#231f20;stroke-width:0.18px" fill="#231f20">NO.</text>
<text transform="translate(129.50,300.85) scale(0.8269,1) translate(-26.23,0)" style="font-family:'Liberation Sans';font-size:10.9px;font-weight:normal;stroke:#231f20;stroke-width:0.18px" fill="#231f20">Part Name</text>
<text transform="translate(259.50,300.85) scale(0.9674,1) translate(-19.45,0)" style="font-family:'Liberation Sans';font-size:10.9px;font-weight:normal;stroke:#231f20;stroke-width:0.18px" fill="#231f20">Material</text>
<text transform="translate(67.50,315.80) scale(0.9200,1) translate(-3.18,0)" style="font-family:'Liberation Sans';font-size:10.9px;font-weight:normal;stroke:#231f20;stroke-width:0.18px" fill="#231f20">1</text>
<text transform="translate(129.50,315.80) scale(0.9160,1) translate(-12.85,0)" style="font-family:'Liberation Sans';font-size:10.9px;font-weight:normal;stroke:#231f20;stroke-width:0.18px" fill="#231f20">Body</text>
<text transform="translate(219.50,315.80) scale(0.7798,1) translate(-40.93,0)" style="font-family:'Liberation Sans';font-size:10.9px;font-weight:normal;stroke:#231f20;stroke-width:0.18px" fill="#231f20">ASTM A351 CF8</text>
<text transform="translate(299.50,315.80) scale(0.7815,1) translate(-45.26,0)" style="font-family:'Liberation Sans';font-size:10.9px;font-weight:normal;stroke:#231f20;stroke-width:0.18px" fill="#231f20">ASTM A351 CF8M</text>
<text transform="translate(67.50,331.56) scale(0.9200,1) translate(-3.03,0)" style="font-family:'Liberation Sans';font-size:10.9px;font-weight:normal;stroke:#231f20;stroke-width:0.18px" fill="#231f20">2</text>
<text transform="translate(129.50,331.56) scale(0.9540,1) translate(-17.67,0)" style="font-family:'Liberation Sans';font-size:10.9px;font-weight:normal;stroke:#231f20;stroke-width:0.18px" fill="#231f20">Bonnet</text>
<text transform="translate(219.50,331.56) scale(0.7798,1) translate(-40.93,0)" style="font-family:'Liberation Sans';font-size:10.9px;font-weight:normal;stroke:#231f20;stroke-width:0.18px" fill="#231f20">ASTM A351 CF8</text>
<text transform="translate(299.50,331.56) scale(0.7815,1) translate(-45.26,0)" style="font-family:'Liberation Sans';font-size:10.9px;font-weight:normal;stroke:#231f20;stroke-width:0.18px" fill="#231f20">ASTM A351 CF8M</text>
<text transform="translate(67.50,347.32) scale(0.9200,1) translate(-3.00,0)" style="font-family:'Liberation Sans';font-size:10.9px;font-weight:normal;stroke:#231f20;stroke-width:0.18px" fill="#231f20">3</text>
<text transform="translate(129.50,347.32) scale(0.9620,1) translate(-11.10,0)" style="font-family:'Liberation Sans';font-size:10.9px;font-weight:normal;stroke:#231f20;stroke-width:0.18px" fill="#231f20">Stud</text>
<text transform="translate(219.50,347.32) scale(0.8332,1) translate(-20.66,0)" style="font-family:'Liberation Sans';font-size:10.9px;font-weight:normal;stroke:#231f20;stroke-width:0.18px" fill="#231f20">A320 B8</text>
<text transform="translate(299.50,347.32) scale(0.8511,1) translate(-24.99,0)" style="font-family:'Liberation Sans';font-size:10.9px;font-weight:normal;stroke:#231f20;stroke-width:0.18px" fill="#231f20">A320 B8M</text>
<text transform="translate(67.50,363.08) scale(0.9200,1) translate(-2.99,0)" style="font-family:'Liberation Sans';font-size:10.9px;font-weight:normal;stroke:#231f20;stroke-width:0.18px" fill="#231f20">4</text>
<text transform="translate(129.50,363.08) scale(0.8226,1) translate(-31.29,0)" style="font-family:'Liberation Sans';font-size:10.9px;font-weight:normal;stroke:#231f20;stroke-width:0.18px" fill="#231f20">Hexagon nut</text>
<text transform="translate(219.50,363.08) scale(0.8116,1) translate(-17.33,0)" style="font-family:'Liberation Sans';font-size:10.9px;font-weight:normal;stroke:#231f20;stroke-width:0.18px" fill="#231f20">A194-8</text>
<text transform="translate(299.50,363.08) scale(0.8573,1) translate(-21.66,0)" style="font-family:'Liberation Sans';font-size:10.9px;font-weight:normal;stroke:#231f20;stroke-width:0.18px" fill="#231f20">A194-8M</text>
<text transform="translate(67.50,378.84) scale(0.9200,1) translate(-3.02,0)" style="font-family:'Liberation Sans';font-size:10.9px;font-weight:normal;stroke:#231f20;stroke-width:0.18px" fill="#231f20">5</text>
<text transform="translate(129.50,378.84) scale(0.8933,1) translate(-11.41,0)" style="font-family:'Liberation Sans';font-size:10.9px;font-weight:normal;stroke:#231f20;stroke-width:0.18px" fill="#231f20">Seat</text>
<text transform="translate(219.50,378.84) scale(0.7933,1) translate(-14.13,0)" style="font-family:'Liberation Sans';font-size:10.9px;font-weight:normal;stroke:#231f20;stroke-width:0.18px" fill="#231f20">PTFE</text>
<text transform="translate(299.50,378.84) scale(0.7933,1) translate(-14.13,0)" style="font-family:'Liberation Sans';font-size:10.9px;font-weight:normal;stroke:#231f20;stroke-width:0.18px" fill="#231f20">PTFE</text>
<text transform="translate(67.50,394.60) scale(0.9200,1) translate(-3.07,0)" style="font-family:'Liberation Sans';font-size:10.9px;font-weight:normal;stroke:#231f20;stroke-width:0.18px" fill="#231f20">6</text>
<text transform="translate(129.50,394.60) scale(0.9252,1) translate(-9.16,0)" style="font-family:'Liberation Sans';font-size:10.9px;font-weight:normal;stroke:#231f20;stroke-width:0.18px" fill="#231f20">Ball</text>
<text transform="translate(219.50,394.60) scale(0.8018,1) translate(-39.81,0)" style="font-family:'Liberation Sans';font-size:10.9px;font-weight:normal;stroke:#231f20;stroke-width:0.18px" fill="#231f20">ASTM A182 304</text>
<text transform="translate(299.50,394.60) scale(0.7921,1) translate(-39.73,0)" style="font-family:'Liberation Sans';font-size:10.9px;font-weight:normal;stroke:#231f20;stroke-width:0.18px" fill="#231f20">ASTM A182 316</text>
<text transform="translate(67.50,410.36) scale(0.9200,1) translate(-3.03,0)" style="font-family:'Liberation Sans';font-size:10.9px;font-weight:normal;stroke:#231f20;stroke-width:0.18px" fill="#231f20">7</text>
<text transform="translate(129.50,410.36) scale(0.7609,1) translate(-58.52,0)" style="font-family:'Liberation Sans';font-size:10.9px;font-weight:normal;stroke:#231f20;stroke-width:0.18px" fill="#231f20">Fireproof sealing gasket</text>
<text transform="translate(219.50,410.36) scale(0.9556,1) translate(-34.66,0)" style="font-family:'Liberation Sans';font-size:10.9px;font-weight:normal;stroke:#231f20;stroke-width:0.18px" fill="#231f20">SST+Graphite</text>
<text transform="translate(299.50,410.36) scale(0.9556,1) translate(-34.66,0)" style="font-family:'Liberation Sans';font-size:10.9px;font-weight:normal;stroke:#231f20;stroke-width:0.18px" fill="#231f20">SST+Graphite</text>
<text transform="translate(67.50,426.12) scale(0.9200,1) translate(-3.03,0)" style="font-family:'Liberation Sans';font-size:10.9px;font-weight:normal;stroke:#231f20;stroke-width:0.18px" fill="#231f20">8</text>
<text transform="translate(129.50,426.12) scale(0.8517,1) translate(-34.88,0)" style="font-family:'Liberation Sans';font-size:10.9px;font-weight:normal;stroke:#231f20;stroke-width:0.18px" fill="#231f20">Thrust bearing</text>
<text transform="translate(219.50,426.12) scale(0.7933,1) translate(-14.13,0)" style="font-family:'Liberation Sans';font-size:10.9px;font-weight:normal;stroke:#231f20;stroke-width:0.18px" fill="#231f20">PTFE</text>
<text transform="translate(299.50,426.12) scale(0.7933,1) translate(-14.13,0)" style="font-family:'Liberation Sans';font-size:10.9px;font-weight:normal;stroke:#231f20;stroke-width:0.18px" fill="#231f20">PTFE</text>
<text transform="translate(67.50,441.88) scale(0.9200,1) translate(-3.03,0)" style="font-family:'Liberation Sans';font-size:10.9px;font-weight:normal;stroke:#231f20;stroke-width:0.18px" fill="#231f20">9</text>
<text transform="translate(129.50,441.88) scale(0.9296,1) translate(-12.60,0)" style="font-family:'Liberation Sans';font-size:10.9px;font-weight:normal;stroke:#231f20;stroke-width:0.18px" fill="#231f20">Stem</text>
<text transform="translate(219.50,441.88) scale(0.8018,1) translate(-39.81,0)" style="font-family:'Liberation Sans';font-size:10.9px;font-weight:normal;stroke:#231f20;stroke-width:0.18px" fill="#231f20">ASTM A182 304</text>
<text transform="translate(299.50,441.88) scale(0.7921,1) translate(-39.73,0)" style="font-family:'Liberation Sans';font-size:10.9px;font-weight:normal;stroke:#231f20;stroke-width:0.18px" fill="#231f20">ASTM A182 316</text>
<text transform="translate(67.50,457.64) scale(0.9200,1) translate(-6.26,0)" style="font-family:'Liberation Sans';font-size:10.9px;font-weight:normal;stroke:#231f20;stroke-width:0.18px" fill="#231f20">10</text>
<text transform="translate(129.50,457.64) scale(0.9422,1) translate(-19.47,0)" style="font-family:'Liberation Sans';font-size:10.9px;font-weight:normal;stroke:#231f20;stroke-width:0.18px" fill="#231f20">Packing</text>
<text transform="translate(219.50,457.64) scale(0.9622,1) translate(-20.92,0)" style="font-family:'Liberation Sans';font-size:10.9px;font-weight:normal;stroke:#231f20;stroke-width:0.18px" fill="#231f20">Graphite</text>
<text transform="translate(299.50,457.64) scale(0.9622,1) translate(-20.92,0)" style="font-family:'Liberation Sans';font-size:10.9px;font-weight:normal;stroke:#231f20;stroke-width:0.18px" fill="#231f20">Graphite</text>
<text transform="translate(67.50,473.40) scale(0.9200,1) translate(-5.80,0)" style="font-family:'Liberation Sans';font-size:10.9px;font-weight:normal;stroke:#231f20;stroke-width:0.18px" fill="#231f20">11</text>
<text transform="translate(129.50,473.40) scale(0.8092,1) translate(-40.93,0)" style="font-family:'Liberation Sans';font-size:10.9px;font-weight:normal;stroke:#231f20;stroke-width:0.18px" fill="#231f20">Anti-static device</text>
<text transform="translate(219.50,473.40) scale(0.8165,1) translate(-38.52,0)" style="font-family:'Liberation Sans';font-size:10.9px;font-weight:normal;stroke:#231f20;stroke-width:0.18px" fill="#231f20">Combined parts</text>
<text transform="translate(299.50,473.40) scale(0.8165,1) translate(-38.52,0)" style="font-family:'Liberation Sans';font-size:10.9px;font-weight:normal;stroke:#231f20;stroke-width:0.18px" fill="#231f20">Combined parts</text>
<text transform="translate(67.50,489.16) scale(0.9200,1) translate(-6.20,0)" style="font-family:'Liberation Sans';font-size:10.9px;font-weight:normal;stroke:#231f20;stroke-width:0.18px" fill="#231f20">12</text>
<text transform="translate(129.50,489.16) scale(0.8337,1) translate(-40.06,0)" style="font-family:'Liberation Sans';font-size:10.9px;font-weight:normal;stroke:#231f20;stroke-width:0.18px" fill="#231f20">Packing bushing</text>
<text transform="translate(219.50,489.16) scale(0.8018,1) translate(-39.81,0)" style="font-family:'Liberation Sans';font-size:10.9px;font-weight:normal;stroke:#231f20;stroke-width:0.18px" fill="#231f20">ASTM A182 304</text>
<text transform="translate(299.50,489.16) scale(0.8132,1) translate(-42.75,0)" style="font-family:'Liberation Sans';font-size:10.9px;font-weight:normal;stroke:#231f20;stroke-width:0.18px" fill="#231f20">ASTM A182 3316</text>
<text transform="translate(67.50,504.92) scale(0.9200,1) translate(-6.23,0)" style="font-family:'Liberation Sans';font-size:10.9px;font-weight:normal;stroke:#231f20;stroke-width:0.18px" fill="#231f20">13</text>
<text transform="translate(129.50,504.92) scale(0.9349,1) translate(-14.45,0)" style="font-family:'Liberation Sans';font-size:10.9px;font-weight:normal;stroke:#231f20;stroke-width:0.18px" fill="#231f20">Gland</text>
<text transform="translate(219.50,504.92) scale(0.8488,1) translate(-26.12,0)" style="font-family:'Liberation Sans';font-size:10.9px;font-weight:normal;stroke:#231f20;stroke-width:0.18px" fill="#231f20">ANSI 1025</text>
<text transform="translate(299.50,504.92) scale(0.8488,1) translate(-26.12,0)" style="font-family:'Liberation Sans';font-size:10.9px;font-weight:normal;stroke:#231f20;stroke-width:0.18px" fill="#231f20">ANSI 1025</text>
<text transform="translate(67.50,520.68) scale(0.9200,1) translate(-6.31,0)" style="font-family:'Liberation Sans';font-size:10.9px;font-weight:normal;stroke:#231f20;stroke-width:0.18px" fill="#231f20">14</text>
<text transform="translate(129.50,520.68) scale(0.8226,1) translate(-31.29,0)" style="font-family:'Liberation Sans';font-size:10.9px;font-weight:normal;stroke:#231f20;stroke-width:0.18px" fill="#231f20">Hexagon nut</text>
<text transform="translate(219.50,520.68) scale(0.8116,1) translate(-17.33,0)" style="font-family:'Liberation Sans';font-size:10.9px;font-weight:normal;stroke:#231f20;stroke-width:0.18px" fill="#231f20">A194-8</text>
<text transform="translate(299.50,520.68) scale(0.8116,1) translate(-17.33,0)" style="font-family:'Liberation Sans';font-size:10.9px;font-weight:normal;stroke:#231f20;stroke-width:0.18px" fill="#231f20">A194-8</text>
<text transform="translate(67.50,536.44) scale(0.9200,1) translate(-6.24,0)" style="font-family:'Liberation Sans';font-size:10.9px;font-weight:normal;stroke:#231f20;stroke-width:0.18px" fill="#231f20">15</text>
<text transform="translate(129.50,536.44) scale(0.8372,1) translate(-32.19,0)" style="font-family:'Liberation Sans';font-size:10.9px;font-weight:normal;stroke:#231f20;stroke-width:0.18px" fill="#231f20">Handle gland</text>
<text transform="translate(219.50,536.44) scale(0.8488,1) translate(-26.12,0)" style="font-family:'Liberation Sans';font-size:10.9px;font-weight:normal;stroke:#231f20;stroke-width:0.18px" fill="#231f20">ANSI 1025</text>
<text transform="translate(299.50,536.44) scale(0.8488,1) translate(-26.12,0)" style="font-family:'Liberation Sans';font-size:10.9px;font-weight:normal;stroke:#231f20;stroke-width:0.18px" fill="#231f20">ANSI 1025</text>
<text transform="translate(67.50,552.20) scale(0.9200,1) translate(-6.23,0)" style="font-family:'Liberation Sans';font-size:10.9px;font-weight:normal;stroke:#231f20;stroke-width:0.18px" fill="#231f20">16</text>
<text transform="translate(129.50,552.20) scale(0.9358,1) translate(-17.48,0)" style="font-family:'Liberation Sans';font-size:10.9px;font-weight:normal;stroke:#231f20;stroke-width:0.18px" fill="#231f20">Gasket</text>
<text transform="translate(219.50,552.20) scale(0.8488,1) translate(-26.12,0)" style="font-family:'Liberation Sans';font-size:10.9px;font-weight:normal;stroke:#231f20;stroke-width:0.18px" fill="#231f20">ANSI 1025</text>
<text transform="translate(299.50,552.20) scale(0.8488,1) translate(-26.12,0)" style="font-family:'Liberation Sans';font-size:10.9px;font-weight:normal;stroke:#231f20;stroke-width:0.18px" fill="#231f20">ANSI 1025</text>
<text transform="translate(67.50,567.96) scale(0.9200,1) translate(-6.20,0)" style="font-family:'Liberation Sans';font-size:10.9px;font-weight:normal;stroke:#231f20;stroke-width:0.18px" fill="#231f20">17</text>
<text transform="translate(129.50,567.96) scale(0.8226,1) translate(-31.29,0)" style="font-family:'Liberation Sans';font-size:10.9px;font-weight:normal;stroke:#231f20;stroke-width:0.18px" fill="#231f20">Hexagon nut</text>
<text transform="translate(219.50,567.96) scale(0.8487,1) translate(-25.59,0)" style="font-family:'Liberation Sans';font-size:10.9px;font-weight:normal;stroke:#231f20;stroke-width:0.18px" fill="#231f20">A194-2HM</text>
<text transform="translate(299.50,567.96) scale(0.8487,1) translate(-25.59,0)" style="font-family:'Liberation Sans';font-size:10.9px;font-weight:normal;stroke:#231f20;stroke-width:0.18px" fill="#231f20">A194-2HM</text>
<text transform="translate(67.50,583.72) scale(0.9200,1) translate(-6.24,0)" style="font-family:'Liberation Sans';font-size:10.9px;font-weight:normal;stroke:#231f20;stroke-width:0.18px" fill="#231f20">18</text>
<text transform="translate(129.50,583.72) scale(0.9658,1) translate(-17.46,0)" style="font-family:'Liberation Sans';font-size:10.9px;font-weight:normal;stroke:#231f20;stroke-width:0.18px" fill="#231f20">Handle</text>
<text transform="translate(219.50,583.72) scale(0.8165,1) translate(-38.52,0)" style="font-family:'Liberation Sans';font-size:10.9px;font-weight:normal;stroke:#231f20;stroke-width:0.18px" fill="#231f20">Combined parts</text>
<text transform="translate(299.50,583.72) scale(0.8165,1) translate(-38.52,0)" style="font-family:'Liberation Sans';font-size:10.9px;font-weight:normal;stroke:#231f20;stroke-width:0.18px" fill="#231f20">Combined parts</text>
<text transform="translate(84.50,649.30) scale(0.8822,1) translate(-18.49,0)" style="font-family:'Liberation Sans';font-size:9.16px;font-weight:normal;stroke:#231f20;stroke-width:0.18px" fill="#231f20">Pressure</text>
<text transform="translate(86.90,660.70) scale(1.1334,1) translate(-11.46,0)" style="font-family:'Liberation Sans';font-size:9.16px;font-weight:normal;stroke:#231f20;stroke-width:0.18px" fill="#231f20">rating</text>
<text transform="translate(168.10,649.70) scale(0.9346,1) translate(-21.59,0)" style="font-family:'Liberation Sans';font-size:10.76px;font-weight:normal;stroke:#231f20;stroke-width:0.18px" fill="#231f20">Norminal</text>
<text transform="translate(165.00,661.00) scale(0.7971,1) translate(-29.68,0)" style="font-family:'Liberation Sans';font-size:10.76px;font-weight:normal;stroke:#231f20;stroke-width:0.18px" fill="#231f20">Diameter(in)</text>
<text transform="translate(86.70,679.60) scale(0.9255,1) translate(-13.34,0)" style="font-family:'Liberation Sans';font-size:10.61px;font-weight:normal;stroke:#231f20;stroke-width:0.18px" fill="#231f20">Class</text>
<text transform="translate(140.20,679.60) scale(0.8310,1) translate(-11.10,0)" style="font-family:'Liberation Sans';font-size:10.61px;font-weight:normal;stroke:#231f20;stroke-width:0.18px" fill="#231f20">NPS</text>
<text transform="translate(191.10,679.60) scale(0.9273,1) translate(-7.66,0)" style="font-family:'Liberation Sans';font-size:10.61px;font-weight:normal;stroke:#231f20;stroke-width:0.18px" fill="#231f20">DN</text>
<text transform="translate(242.70,663.60) scale(1.2320,1) translate(-2.79,0)" style="font-family:'Liberation Sans';font-size:10.47px;font-weight:normal;stroke:#231f20;stroke-width:0.18px" fill="#231f20">d</text>
<text transform="translate(293.70,663.60) scale(1.1483,1) translate(-3.17,0)" style="font-family:'Liberation Sans';font-size:10.47px;font-weight:normal;stroke:#231f20;stroke-width:0.18px" fill="#231f20">L</text>
<text transform="translate(476.50,655.10) scale(0.7892,1) translate(-44.72,0)" style="font-family:'Liberation Sans';font-size:10.76px;font-weight:normal;stroke:#231f20;stroke-width:0.18px" fill="#231f20">Raised face flange</text>
<text transform="translate(345.40,679.80) scale(0.8800,1) translate(-4.01,0)" style="font-family:'Liberation Sans';font-size:10.61px;font-weight:normal;stroke:#231f20;stroke-width:0.18px" fill="#231f20">D</text>
<text transform="translate(396.40,679.80) scale(0.8800,1) translate(-6.96,0)" style="font-family:'Liberation Sans';font-size:10.61px;font-weight:normal;stroke:#231f20;stroke-width:0.18px" fill="#231f20">D1</text>
<text transform="translate(445.90,679.80) scale(0.8800,1) translate(-6.95,0)" style="font-family:'Liberation Sans';font-size:10.61px;font-weight:normal;stroke:#231f20;stroke-width:0.18px" fill="#231f20">D2</text>
<text transform="translate(494.40,679.80) scale(0.8800,1) translate(-1.56,0)" style="font-family:'Liberation Sans';font-size:10.61px;font-weight:normal;stroke:#231f20;stroke-width:0.18px" fill="#231f20">f</text>
<text transform="translate(542.90,679.80) scale(0.8800,1) translate(-3.07,0)" style="font-family:'Liberation Sans';font-size:10.61px;font-weight:normal;stroke:#231f20;stroke-width:0.18px" fill="#231f20">b</text>
<text transform="translate(596.90,679.90) scale(0.9200,1) translate(-11.17,0)" style="font-family:'Liberation Sans';font-size:11.05px;font-weight:normal;stroke:#231f20;stroke-width:0.18px" fill="#231f20">N-</text>
<text transform="translate(603.00,680.70) scale(0.8087,1) translate(-4.18,0)" style="font-family:'Liberation Serif';font-size:11.45px;font-weight:normal" fill="#8fa9b8">Φ</text>
<text transform="translate(608.30,679.90) scale(0.9200,1) translate(-0.46,0)" style="font-family:'Liberation Sans';font-size:11.05px;font-weight:normal;stroke:#231f20;stroke-width:0.18px" fill="#231f20">d</text>
<text transform="translate(659.90,663.60) scale(1.1458,1) translate(-3.78,0)" style="font-family:'Liberation Sans';font-size:10.47px;font-weight:normal;stroke:#231f20;stroke-width:0.18px" fill="#231f20">H</text>
<text transform="translate(710.40,663.60) scale(0.9899,1) translate(-4.95,0)" style="font-family:'Liberation Sans';font-size:10.47px;font-weight:normal;stroke:#231f20;stroke-width:0.18px" fill="#231f20">W</text>
<text transform="translate(85.45,765.80) scale(0.8920,1) translate(-9.54,0)" style="font-family:'Liberation Sans';font-size:11.19px;font-weight:normal;stroke:#231f20;stroke-width:0.18px" fill="#231f20">150</text>
<text transform="translate(85.45,923.30) scale(0.8707,1) translate(-9.33,0)" style="font-family:'Liberation Sans';font-size:11.19px;font-weight:normal;stroke:#231f20;stroke-width:0.18px" fill="#231f20">300</text>
<text transform="translate(140.00,694.90) scale(0.9200,1) translate(-9.83,0)" style="font-family:'Liberation Sans';font-size:11.05px;font-weight:normal;stroke:#231f20;stroke-width:0.18px" fill="#231f20">1/2&quot;</text>
<text transform="translate(191.00,694.90) scale(0.9200,1) translate(-6.33,0)" style="font-family:'Liberation Sans';font-size:11.05px;font-weight:normal;stroke:#231f20;stroke-width:0.18px" fill="#231f20">15</text>
<text transform="translate(242.00,694.90) scale(0.9200,1) translate(-6.32,0)" style="font-family:'Liberation Sans';font-size:11.05px;font-weight:normal;stroke:#231f20;stroke-width:0.18px" fill="#231f20">13</text>
<text transform="translate(293.50,694.90) scale(0.9200,1) translate(-9.40,0)" style="font-family:'Liberation Sans';font-size:11.05px;font-weight:normal;stroke:#231f20;stroke-width:0.18px" fill="#231f20">108</text>
<text transform="translate(345.00,694.90) scale(0.9200,1) translate(-6.19,0)" style="font-family:'Liberation Sans';font-size:11.05px;font-weight:normal;stroke:#231f20;stroke-width:0.18px" fill="#231f20">90</text>
<text transform="translate(396.00,694.90) scale(0.9200,1) translate(-10.80,0)" style="font-family:'Liberation Sans';font-size:11.05px;font-weight:normal;stroke:#231f20;stroke-width:0.18px" fill="#231f20">60.5</text>
<text transform="translate(445.50,694.90) scale(0.9200,1) translate(-6.12,0)" style="font-family:'Liberation Sans';font-size:11.05px;font-weight:normal;stroke:#231f20;stroke-width:0.18px" fill="#231f20">35</text>
<text transform="translate(494.00,694.90) scale(0.9200,1) translate(-3.07,0)" style="font-family:'Liberation Sans';font-size:11.05px;font-weight:normal;stroke:#231f20;stroke-width:0.18px" fill="#231f20">2</text>
<text transform="translate(542.50,694.90) scale(0.9200,1) translate(-3.07,0)" style="font-family:'Liberation Sans';font-size:11.05px;font-weight:normal;stroke:#231f20;stroke-width:0.18px" fill="#231f20">9</text>
<text transform="translate(594.10,694.90) scale(0.9200,1) translate(-9.33,0)" style="font-family:'Liberation Sans';font-size:11.05px;font-weight:normal;stroke:#231f20;stroke-width:0.18px" fill="#231f20">4-</text>
<text transform="translate(599.50,696.60) scale(0.7842,1) translate(-4.80,0)" style="font-family:'Liberation Serif';font-size:13.13px;font-weight:normal" fill="#6a6a6a">Φ</text>
<text transform="translate(605.70,694.90) scale(0.9200,1) translate(-0.84,0)" style="font-family:'Liberation Sans';font-size:11.05px;font-weight:normal;stroke:#231f20;stroke-width:0.18px" fill="#231f20">16</text>
<text transform="translate(660.00,694.90) scale(0.9200,1) translate(-6.17,0)" style="font-family:'Liberation Sans';font-size:11.05px;font-weight:normal;stroke:#231f20;stroke-width:0.18px" fill="#231f20">79</text>
<text transform="translate(711.00,694.90) scale(0.9200,1) translate(-9.42,0)" style="font-family:'Liberation Sans';font-size:11.05px;font-weight:normal;stroke:#231f20;stroke-width:0.18px" fill="#231f20">140</text>
<text transform="translate(140.00,710.58) scale(0.9200,1) translate(-9.61,0)" style="font-family:'Liberation Sans';font-size:11.05px;font-weight:normal;stroke:#231f20;stroke-width:0.18px" fill="#231f20">3/4&quot;</text>
<text transform="translate(191.00,710.58) scale(0.9200,1) translate(-6.21,0)" style="font-family:'Liberation Sans';font-size:11.05px;font-weight:normal;stroke:#231f20;stroke-width:0.18px" fill="#231f20">20</text>
<text transform="translate(242.00,710.58) scale(0.9200,1) translate(-6.30,0)" style="font-family:'Liberation Sans';font-size:11.05px;font-weight:normal;stroke:#231f20;stroke-width:0.18px" fill="#231f20">19</text>
<text transform="translate(293.50,710.58) scale(0.9200,1) translate(-8.95,0)" style="font-family:'Liberation Sans';font-size:11.05px;font-weight:normal;stroke:#231f20;stroke-width:0.18px" fill="#231f20">117</text>
<text transform="translate(345.00,710.58) scale(0.9200,1) translate(-9.42,0)" style="font-family:'Liberation Sans';font-size:11.05px;font-weight:normal;stroke:#231f20;stroke-width:0.18px" fill="#231f20">100</text>
<text transform="translate(396.00,710.58) scale(0.9200,1) translate(-6.21,0)" style="font-family:'Liberation Sans';font-size:11.05px;font-weight:normal;stroke:#231f20;stroke-width:0.18px" fill="#231f20">70</text>
<text transform="translate(445.50,710.58) scale(0.9200,1) translate(-6.03,0)" style="font-family:'Liberation Sans';font-size:11.05px;font-weight:normal;stroke:#231f20;stroke-width:0.18px" fill="#231f20">43</text>
<text transform="translate(494.00,710.58) scale(0.9200,1) translate(-3.07,0)" style="font-family:'Liberation Sans';font-size:11.05px;font-weight:normal;stroke:#231f20;stroke-width:0.18px" fill="#231f20">2</text>
<text transform="translate(542.50,710.58) scale(0.9200,1) translate(-6.35,0)" style="font-family:'Liberation Sans';font-size:11.05px;font-weight:normal;stroke:#231f20;stroke-width:0.18px" fill="#231f20">10</text>
<text transform="translate(594.10,710.58) scale(0.9200,1) translate(-9.33,0)" style="font-family:'Liberation Sans';font-size:11.05px;font-weight:normal;stroke:#231f20;stroke-width:0.18px" fill="#231f20">4-</text>
<text transform="translate(599.50,712.28) scale(0.7842,1) translate(-4.80,0)" style="font-family:'Liberation Serif';font-size:13.13px;font-weight:normal" fill="#6a6a6a">Φ</text>
<text transform="translate(605.70,710.58) scale(0.9200,1) translate(-0.84,0)" style="font-family:'Liberation Sans';font-size:11.05px;font-weight:normal;stroke:#231f20;stroke-width:0.18px" fill="#231f20">16</text>
<text transform="translate(660.00,710.58) scale(0.9200,1) translate(-6.22,0)" style="font-family:'Liberation Sans';font-size:11.05px;font-weight:normal;stroke:#231f20;stroke-width:0.18px" fill="#231f20">84</text>
<text transform="translate(711.00,710.58) scale(0.9200,1) translate(-9.42,0)" style="font-family:'Liberation Sans';font-size:11.05px;font-weight:normal;stroke:#231f20;stroke-width:0.18px" fill="#231f20">140</text>
<text transform="translate(140.00,726.26) scale(0.9200,1) translate(-5.22,0)" style="font-family:'Liberation Sans';font-size:11.05px;font-weight:normal;stroke:#231f20;stroke-width:0.18px" fill="#231f20">1&quot;</text>
<text transform="translate(191.00,726.26) scale(0.9200,1) translate(-6.19,0)" style="font-family:'Liberation Sans';font-size:11.05px;font-weight:normal;stroke:#231f20;stroke-width:0.18px" fill="#231f20">25</text>
<text transform="translate(242.00,726.26) scale(0.9200,1) translate(-6.19,0)" style="font-family:'Liberation Sans';font-size:11.05px;font-weight:normal;stroke:#231f20;stroke-width:0.18px" fill="#231f20">25</text>
<text transform="translate(293.50,726.26) scale(0.9200,1) translate(-9.36,0)" style="font-family:'Liberation Sans';font-size:11.05px;font-weight:normal;stroke:#231f20;stroke-width:0.18px" fill="#231f20">127</text>
<text transform="translate(345.00,726.26) scale(0.9200,1) translate(-9.01,0)" style="font-family:'Liberation Sans';font-size:11.05px;font-weight:normal;stroke:#231f20;stroke-width:0.18px" fill="#231f20">110</text>
<text transform="translate(396.00,726.26) scale(0.9200,1) translate(-10.80,0)" style="font-family:'Liberation Sans';font-size:11.05px;font-weight:normal;stroke:#231f20;stroke-width:0.18px" fill="#231f20">79.5</text>
<text transform="translate(445.50,726.26) scale(0.9200,1) translate(-6.10,0)" style="font-family:'Liberation Sans';font-size:11.05px;font-weight:normal;stroke:#231f20;stroke-width:0.18px" fill="#231f20">51</text>
<text transform="translate(494.00,726.26) scale(0.9200,1) translate(-3.07,0)" style="font-family:'Liberation Sans';font-size:11.05px;font-weight:normal;stroke:#231f20;stroke-width:0.18px" fill="#231f20">2</text>
<text transform="translate(542.50,726.26) scale(0.9200,1) translate(-5.88,0)" style="font-family:'Liberation Sans';font-size:11.05px;font-weight:normal;stroke:#231f20;stroke-width:0.18px" fill="#231f20">11</text>
<text transform="translate(594.10,726.26) scale(0.9200,1) translate(-9.33,0)" style="font-family:'Liberation Sans';font-size:11.05px;font-weight:normal;stroke:#231f20;stroke-width:0.18px" fill="#231f20">4-</text>
<text transform="translate(599.50,727.96) scale(0.7842,1) translate(-4.80,0)" style="font-family:'Liberation Serif';font-size:13.13px;font-weight:normal" fill="#6a6a6a">Φ</text>
<text transform="translate(605.70,726.26) scale(0.9200,1) translate(-0.84,0)" style="font-family:'Liberation Sans';font-size:11.05px;font-weight:normal;stroke:#231f20;stroke-width:0.18px" fill="#231f20">16</text>
<text transform="translate(660.00,726.26) scale(0.9200,1) translate(-6.17,0)" style="font-family:'Liberation Sans';font-size:11.05px;font-weight:normal;stroke:#231f20;stroke-width:0.18px" fill="#231f20">95</text>
<text transform="translate(711.00,726.26) scale(0.9200,1) translate(-9.42,0)" style="font-family:'Liberation Sans';font-size:11.05px;font-weight:normal;stroke:#231f20;stroke-width:0.18px" fill="#231f20">180</text>
<text transform="translate(134.60,739.20) scale(0.9200,1) translate(-3.01,0)" style="font-family:'Liberation Sans';font-size:10.32px;font-weight:normal;stroke:#231f20;stroke-width:0.18px" fill="#231f20">1</text>
<text transform="translate(137.80,734.00) scale(0.9000,1) translate(-1.31,0)" style="font-family:'Liberation Sans';font-size:4.5px;font-weight:normal" fill="#231f20">1</text>
<text transform="translate(146.50,740.00) scale(0.9200,1) translate(-1.93,0)" style="font-family:'Liberation Sans';font-size:10.9px;font-weight:normal;stroke:#231f20;stroke-width:0.18px" fill="#231f20">&quot;</text>
<text transform="translate(191.00,741.94) scale(0.9200,1) translate(-6.08,0)" style="font-family:'Liberation Sans';font-size:11.05px;font-weight:normal;stroke:#231f20;stroke-width:0.18px" fill="#231f20">32</text>
<text transform="translate(242.00,741.94) scale(0.9200,1) translate(-6.08,0)" style="font-family:'Liberation Sans';font-size:11.05px;font-weight:normal;stroke:#231f20;stroke-width:0.18px" fill="#231f20">32</text>
<text transform="translate(293.50,741.94) scale(0.9200,1) translate(-9.42,0)" style="font-family:'Liberation Sans';font-size:11.05px;font-weight:normal;stroke:#231f20;stroke-width:0.18px" fill="#231f20">140</text>
<text transform="translate(345.00,741.94) scale(0.9200,1) translate(-8.99,0)" style="font-family:'Liberation Sans';font-size:11.05px;font-weight:normal;stroke:#231f20;stroke-width:0.18px" fill="#231f20">115</text>
<text transform="translate(396.00,741.94) scale(0.9200,1) translate(-6.12,0)" style="font-family:'Liberation Sans';font-size:11.05px;font-weight:normal;stroke:#231f20;stroke-width:0.18px" fill="#231f20">89</text>
<text transform="translate(445.50,741.94) scale(0.9200,1) translate(-6.26,0)" style="font-family:'Liberation Sans';font-size:11.05px;font-weight:normal;stroke:#231f20;stroke-width:0.18px" fill="#231f20">64</text>
<text transform="translate(494.00,741.94) scale(0.9200,1) translate(-3.07,0)" style="font-family:'Liberation Sans';font-size:11.05px;font-weight:normal;stroke:#231f20;stroke-width:0.18px" fill="#231f20">2</text>
<text transform="translate(542.50,741.94) scale(0.9200,1) translate(-5.88,0)" style="font-family:'Liberation Sans';font-size:11.05px;font-weight:normal;stroke:#231f20;stroke-width:0.18px" fill="#231f20">11</text>
<text transform="translate(594.10,741.94) scale(0.9200,1) translate(-9.33,0)" style="font-family:'Liberation Sans';font-size:11.05px;font-weight:normal;stroke:#231f20;stroke-width:0.18px" fill="#231f20">4-</text>
<text transform="translate(599.50,743.64) scale(0.7842,1) translate(-4.80,0)" style="font-family:'Liberation Serif';font-size:13.13px;font-weight:normal" fill="#6a6a6a">Φ</text>
<text transform="translate(605.70,741.94) scale(0.9200,1) translate(-0.84,0)" style="font-family:'Liberation Sans';font-size:11.05px;font-weight:normal;stroke:#231f20;stroke-width:0.18px" fill="#231f20">16</text>
<text transform="translate(660.00,741.94) scale(0.9200,1) translate(-9.39,0)" style="font-family:'Liberation Sans';font-size:11.05px;font-weight:normal;stroke:#231f20;stroke-width:0.18px" fill="#231f20">103</text>
<text transform="translate(711.00,741.94) scale(0.9200,1) translate(-9.42,0)" style="font-family:'Liberation Sans';font-size:11.05px;font-weight:normal;stroke:#231f20;stroke-width:0.18px" fill="#231f20">180</text>
<text transform="translate(134.60,755.90) scale(0.9200,1) translate(-3.01,0)" style="font-family:'Liberation Sans';font-size:10.32px;font-weight:normal;stroke:#231f20;stroke-width:0.18px" fill="#231f20">1</text>
<text transform="translate(137.80,750.70) scale(0.9000,1) translate(-1.31,0)" style="font-family:'Liberation Sans';font-size:4.5px;font-weight:normal" fill="#231f20">1</text>
<text transform="translate(146.50,756.70) scale(0.9200,1) translate(-1.93,0)" style="font-family:'Liberation Sans';font-size:10.9px;font-weight:normal;stroke:#231f20;stroke-width:0.18px" fill="#231f20">&quot;</text>
<text transform="translate(144.50,760.20) scale(0.9000,1) translate(-1.57,0)" style="font-family:'Liberation Sans';font-size:5.67px;font-weight:normal" fill="#231f20">2</text>
<text transform="translate(191.00,757.62) scale(0.9200,1) translate(-6.05,0)" style="font-family:'Liberation Sans';font-size:11.05px;font-weight:normal;stroke:#231f20;stroke-width:0.18px" fill="#231f20">40</text>
<text transform="translate(242.00,757.62) scale(0.9200,1) translate(-6.11,0)" style="font-family:'Liberation Sans';font-size:11.05px;font-weight:normal;stroke:#231f20;stroke-width:0.18px" fill="#231f20">38</text>
<text transform="translate(293.50,757.62) scale(0.9200,1) translate(-9.40,0)" style="font-family:'Liberation Sans';font-size:11.05px;font-weight:normal;stroke:#231f20;stroke-width:0.18px" fill="#231f20">165</text>
<text transform="translate(345.00,757.62) scale(0.9200,1) translate(-9.40,0)" style="font-family:'Liberation Sans';font-size:11.05px;font-weight:normal;stroke:#231f20;stroke-width:0.18px" fill="#231f20">125</text>
<text transform="translate(396.00,757.62) scale(0.9200,1) translate(-10.78,0)" style="font-family:'Liberation Sans';font-size:11.05px;font-weight:normal;stroke:#231f20;stroke-width:0.18px" fill="#231f20">98.5</text>
<text transform="translate(445.50,757.62) scale(0.9200,1) translate(-6.18,0)" style="font-family:'Liberation Sans';font-size:11.05px;font-weight:normal;stroke:#231f20;stroke-width:0.18px" fill="#231f20">73</text>
<text transform="translate(494.00,757.62) scale(0.9200,1) translate(-3.07,0)" style="font-family:'Liberation Sans';font-size:11.05px;font-weight:normal;stroke:#231f20;stroke-width:0.18px" fill="#231f20">2</text>
<text transform="translate(542.50,757.62) scale(0.9200,1) translate(-6.32,0)" style="font-family:'Liberation Sans';font-size:11.05px;font-weight:normal;stroke:#231f20;stroke-width:0.18px" fill="#231f20">13</text>
<text transform="translate(594.10,757.62) scale(0.9200,1) translate(-9.33,0)" style="font-family:'Liberation Sans';font-size:11.05px;font-weight:normal;stroke:#231f20;stroke-width:0.18px" fill="#231f20">4-</text>
<text transform="translate(599.50,759.32) scale(0.7842,1) translate(-4.80,0)" style="font-family:'Liberation Serif';font-size:13.13px;font-weight:normal" fill="#6a6a6a">Φ</text>
<text transform="translate(605.70,757.62) scale(0.9200,1) translate(-0.84,0)" style="font-family:'Liberation Sans';font-size:11.05px;font-weight:normal;stroke:#231f20;stroke-width:0.18px" fill="#231f20">16</text>
<text transform="translate(660.00,757.62) scale(0.9200,1) translate(-8.55,0)" style="font-family:'Liberation Sans';font-size:11.05px;font-weight:normal;stroke:#231f20;stroke-width:0.18px" fill="#231f20">111</text>
<text transform="translate(711.00,757.62) scale(0.9200,1) translate(-9.28,0)" style="font-family:'Liberation Sans';font-size:11.05px;font-weight:normal;stroke:#231f20;stroke-width:0.18px" fill="#231f20">200</text>
<text transform="translate(140.00,773.30) scale(0.9200,1) translate(-5.08,0)" style="font-family:'Liberation Sans';font-size:11.05px;font-weight:normal;stroke:#231f20;stroke-width:0.18px" fill="#231f20">2&quot;</text>
<text transform="translate(191.00,773.30) scale(0.9200,1) translate(-6.15,0)" style="font-family:'Liberation Sans';font-size:11.05px;font-weight:normal;stroke:#231f20;stroke-width:0.18px" fill="#231f20">50</text>
<text transform="translate(242.00,773.30) scale(0.9200,1) translate(-6.15,0)" style="font-family:'Liberation Sans';font-size:11.05px;font-weight:normal;stroke:#231f20;stroke-width:0.18px" fill="#231f20">50</text>
<text transform="translate(293.50,773.30) scale(0.9200,1) translate(-9.40,0)" style="font-family:'Liberation Sans';font-size:11.05px;font-weight:normal;stroke:#231f20;stroke-width:0.18px" fill="#231f20">178</text>
<text transform="translate(345.00,773.30) scale(0.9200,1) translate(-9.42,0)" style="font-family:'Liberation Sans';font-size:11.05px;font-weight:normal;stroke:#231f20;stroke-width:0.18px" fill="#231f20">150</text>
<text transform="translate(396.00,773.30) scale(0.9200,1) translate(-14.01,0)" style="font-family:'Liberation Sans';font-size:11.05px;font-weight:normal;stroke:#231f20;stroke-width:0.18px" fill="#231f20">120.5</text>
<text transform="translate(445.50,773.30) scale(0.9200,1) translate(-6.12,0)" style="font-family:'Liberation Sans';font-size:11.05px;font-weight:normal;stroke:#231f20;stroke-width:0.18px" fill="#231f20">92</text>
<text transform="translate(494.00,773.30) scale(0.9200,1) translate(-3.07,0)" style="font-family:'Liberation Sans';font-size:11.05px;font-weight:normal;stroke:#231f20;stroke-width:0.18px" fill="#231f20">2</text>
<text transform="translate(542.50,773.30) scale(0.9200,1) translate(-10.94,0)" style="font-family:'Liberation Sans';font-size:11.05px;font-weight:normal;stroke:#231f20;stroke-width:0.18px" fill="#231f20">14.5</text>
<text transform="translate(594.10,773.30) scale(0.9200,1) translate(-9.33,0)" style="font-family:'Liberation Sans';font-size:11.05px;font-weight:normal;stroke:#231f20;stroke-width:0.18px" fill="#231f20">4-</text>
<text transform="translate(599.50,775.00) scale(0.7842,1) translate(-4.80,0)" style="font-family:'Liberation Serif';font-size:13.13px;font-weight:normal" fill="#6a6a6a">Φ</text>
<text transform="translate(605.70,773.30) scale(0.9200,1) translate(-0.84,0)" style="font-family:'Liberation Sans';font-size:11.05px;font-weight:normal;stroke:#231f20;stroke-width:0.18px" fill="#231f20">19</text>
<text transform="translate(660.00,773.30) scale(0.9200,1) translate(-9.42,0)" style="font-family:'Liberation Sans';font-size:11.05px;font-weight:normal;stroke:#231f20;stroke-width:0.18px" fill="#231f20">120</text>
<text transform="translate(711.00,773.30) scale(0.9200,1) translate(-9.28,0)" style="font-family:'Liberation Sans';font-size:11.05px;font-weight:normal;stroke:#231f20;stroke-width:0.18px" fill="#231f20">200</text>
<text transform="translate(140.00,788.98) scale(0.9200,1) translate(-5.01,0)" style="font-family:'Liberation Sans';font-size:11.05px;font-weight:normal;stroke:#231f20;stroke-width:0.18px" fill="#231f20">3&quot;</text>
<text transform="translate(191.00,788.98) scale(0.9200,1) translate(-6.17,0)" style="font-family:'Liberation Sans';font-size:11.05px;font-weight:normal;stroke:#231f20;stroke-width:0.18px" fill="#231f20">80</text>
<text transform="translate(242.00,788.98) scale(0.9200,1) translate(-6.20,0)" style="font-family:'Liberation Sans';font-size:11.05px;font-weight:normal;stroke:#231f20;stroke-width:0.18px" fill="#231f20">75</text>
<text transform="translate(293.50,788.98) scale(0.9200,1) translate(-9.25,0)" style="font-family:'Liberation Sans';font-size:11.05px;font-weight:normal;stroke:#231f20;stroke-width:0.18px" fill="#231f20">203</text>
<text transform="translate(345.00,788.98) scale(0.9200,1) translate(-9.42,0)" style="font-family:'Liberation Sans';font-size:11.05px;font-weight:normal;stroke:#231f20;stroke-width:0.18px" fill="#231f20">190</text>
<text transform="translate(396.00,788.98) scale(0.9200,1) translate(-14.01,0)" style="font-family:'Liberation Sans';font-size:11.05px;font-weight:normal;stroke:#231f20;stroke-width:0.18px" fill="#231f20">152.5</text>
<text transform="translate(445.50,788.98) scale(0.9200,1) translate(-9.36,0)" style="font-family:'Liberation Sans';font-size:11.05px;font-weight:normal;stroke:#231f20;stroke-width:0.18px" fill="#231f20">127</text>
<text transform="translate(494.00,788.98) scale(0.9200,1) translate(-3.07,0)" style="font-family:'Liberation Sans';font-size:11.05px;font-weight:normal;stroke:#231f20;stroke-width:0.18px" fill="#231f20">2</text>
<text transform="translate(542.50,788.98) scale(0.9200,1) translate(-10.94,0)" style="font-family:'Liberation Sans';font-size:11.05px;font-weight:normal;stroke:#231f20;stroke-width:0.18px" fill="#231f20">17.5</text>
<text transform="translate(594.10,788.98) scale(0.9200,1) translate(-9.33,0)" style="font-family:'Liberation Sans';font-size:11.05px;font-weight:normal;stroke:#231f20;stroke-width:0.18px" fill="#231f20">4-</text>
<text transform="translate(599.50,790.68) scale(0.7842,1) translate(-4.80,0)" style="font-family:'Liberation Serif';font-size:13.13px;font-weight:normal" fill="#6a6a6a">Φ</text>
<text transform="translate(605.70,788.98) scale(0.9200,1) translate(-0.84,0)" style="font-family:'Liberation Sans';font-size:11.05px;font-weight:normal;stroke:#231f20;stroke-width:0.18px" fill="#231f20">19</text>
<text transform="translate(660.00,788.98) scale(0.9200,1) translate(-9.39,0)" style="font-family:'Liberation Sans';font-size:11.05px;font-weight:normal;stroke:#231f20;stroke-width:0.18px" fill="#231f20">163</text>
<text transform="translate(711.00,788.98) scale(0.9200,1) translate(-9.21,0)" style="font-family:'Liberation Sans';font-size:11.05px;font-weight:normal;stroke:#231f20;stroke-width:0.18px" fill="#231f20">300</text>
<text transform="translate(140.00,804.66) scale(0.9200,1) translate(-4.92,0)" style="font-family:'Liberation Sans';font-size:11.05px;font-weight:normal;stroke:#231f20;stroke-width:0.18px" fill="#231f20">4&quot;</text>
<text transform="translate(191.00,804.66) scale(0.9200,1) translate(-9.42,0)" style="font-family:'Liberation Sans';font-size:11.05px;font-weight:normal;stroke:#231f20;stroke-width:0.18px" fill="#231f20">100</text>
<text transform="translate(242.00,804.66) scale(0.9200,1) translate(-9.42,0)" style="font-family:'Liberation Sans';font-size:11.05px;font-weight:normal;stroke:#231f20;stroke-width:0.18px" fill="#231f20">100</text>
<text transform="translate(293.50,804.66) scale(0.9200,1) translate(-9.23,0)" style="font-family:'Liberation Sans';font-size:11.05px;font-weight:normal;stroke:#231f20;stroke-width:0.18px" fill="#231f20">229</text>
<text transform="translate(345.00,804.66) scale(0.9200,1) translate(-9.28,0)" style="font-family:'Liberation Sans';font-size:11.05px;font-weight:normal;stroke:#231f20;stroke-width:0.18px" fill="#231f20">230</text>
<text transform="translate(396.00,804.66) scale(0.9200,1) translate(-14.01,0)" style="font-family:'Liberation Sans';font-size:11.05px;font-weight:normal;stroke:#231f20;stroke-width:0.18px" fill="#231f20">190.5</text>
<text transform="translate(445.50,804.66) scale(0.9200,1) translate(-9.36,0)" style="font-family:'Liberation Sans';font-size:11.05px;font-weight:normal;stroke:#231f20;stroke-width:0.18px" fill="#231f20">157</text>
<text transform="translate(494.00,804.66) scale(0.9200,1) translate(-3.07,0)" style="font-family:'Liberation Sans';font-size:11.05px;font-weight:normal;stroke:#231f20;stroke-width:0.18px" fill="#231f20">2</text>
<text transform="translate(542.50,804.66) scale(0.9200,1) translate(-10.80,0)" style="font-family:'Liberation Sans';font-size:11.05px;font-weight:normal;stroke:#231f20;stroke-width:0.18px" fill="#231f20">22.5</text>
<text transform="translate(594.10,804.66) scale(0.9200,1) translate(-9.33,0)" style="font-family:'Liberation Sans';font-size:11.05px;font-weight:normal;stroke:#231f20;stroke-width:0.18px" fill="#231f20">8-</text>
<text transform="translate(599.50,806.36) scale(0.7842,1) translate(-4.80,0)" style="font-family:'Liberation Serif';font-size:13.13px;font-weight:normal" fill="#6a6a6a">Φ</text>
<text transform="translate(605.70,804.66) scale(0.9200,1) translate(-0.84,0)" style="font-family:'Liberation Sans';font-size:11.05px;font-weight:normal;stroke:#231f20;stroke-width:0.18px" fill="#231f20">19</text>
<text transform="translate(660.00,804.66) scale(0.9200,1) translate(-9.36,0)" style="font-family:'Liberation Sans';font-size:11.05px;font-weight:normal;stroke:#231f20;stroke-width:0.18px" fill="#231f20">182</text>
<text transform="translate(711.00,804.66) scale(0.9200,1) translate(-9.13,0)" style="font-family:'Liberation Sans';font-size:11.05px;font-weight:normal;stroke:#231f20;stroke-width:0.18px" fill="#231f20">400</text>
<text transform="translate(140.00,820.34) scale(0.9200,1) translate(-5.08,0)" style="font-family:'Liberation Sans';font-size:11.05px;font-weight:normal;stroke:#231f20;stroke-width:0.18px" fill="#231f20">6&quot;</text>
<text transform="translate(191.00,820.34) scale(0.9200,1) translate(-9.42,0)" style="font-family:'Liberation Sans';font-size:11.05px;font-weight:normal;stroke:#231f20;stroke-width:0.18px" fill="#231f20">150</text>
<text transform="translate(242.00,820.34) scale(0.9200,1) translate(-9.42,0)" style="font-family:'Liberation Sans';font-size:11.05px;font-weight:normal;stroke:#231f20;stroke-width:0.18px" fill="#231f20">150</text>
<text transform="translate(293.50,820.34) scale(0.9200,1) translate(-9.26,0)" style="font-family:'Liberation Sans';font-size:11.05px;font-weight:normal;stroke:#231f20;stroke-width:0.18px" fill="#231f20">394</text>
<text transform="translate(345.00,820.34) scale(0.9200,1) translate(-9.28,0)" style="font-family:'Liberation Sans';font-size:11.05px;font-weight:normal;stroke:#231f20;stroke-width:0.18px" fill="#231f20">280</text>
<text transform="translate(396.00,820.34) scale(0.9200,1) translate(-13.87,0)" style="font-family:'Liberation Sans';font-size:11.05px;font-weight:normal;stroke:#231f20;stroke-width:0.18px" fill="#231f20">241.5</text>
<text transform="translate(445.50,820.34) scale(0.9200,1) translate(-9.25,0)" style="font-family:'Liberation Sans';font-size:11.05px;font-weight:normal;stroke:#231f20;stroke-width:0.18px" fill="#231f20">216</text>
<text transform="translate(494.00,820.34) scale(0.9200,1) translate(-3.07,0)" style="font-family:'Liberation Sans';font-size:11.05px;font-weight:normal;stroke:#231f20;stroke-width:0.18px" fill="#231f20">2</text>
<text transform="translate(542.50,820.34) scale(0.9200,1) translate(-6.26,0)" style="font-family:'Liberation Sans';font-size:11.05px;font-weight:normal;stroke:#231f20;stroke-width:0.18px" fill="#231f20">24</text>
<text transform="translate(594.10,820.34) scale(0.9200,1) translate(-9.33,0)" style="font-family:'Liberation Sans';font-size:11.05px;font-weight:normal;stroke:#231f20;stroke-width:0.18px" fill="#231f20">8-</text>
<text transform="translate(599.50,822.04) scale(0.7842,1) translate(-4.80,0)" style="font-family:'Liberation Serif';font-size:13.13px;font-weight:normal" fill="#6a6a6a">Φ</text>
<text transform="translate(605.70,820.34) scale(0.9200,1) translate(-0.56,0)" style="font-family:'Liberation Sans';font-size:11.05px;font-weight:normal;stroke:#231f20;stroke-width:0.18px" fill="#231f20">22</text>
<text transform="translate(660.00,820.34) scale(0.9200,1) translate(-9.28,0)" style="font-family:'Liberation Sans';font-size:11.05px;font-weight:normal;stroke:#231f20;stroke-width:0.18px" fill="#231f20">280</text>
<text transform="translate(711.00,820.34) scale(0.9200,1) translate(-9.24,0)" style="font-family:'Liberation Sans';font-size:11.05px;font-weight:normal;stroke:#231f20;stroke-width:0.18px" fill="#231f20">800</text>
<text transform="translate(140.00,836.02) scale(0.9200,1) translate(-5.04,0)" style="font-family:'Liberation Sans';font-size:11.05px;font-weight:normal;stroke:#231f20;stroke-width:0.18px" fill="#231f20">8&quot;</text>
<text transform="translate(191.00,836.02) scale(0.9200,1) translate(-9.28,0)" style="font-family:'Liberation Sans';font-size:11.05px;font-weight:normal;stroke:#231f20;stroke-width:0.18px" fill="#231f20">200</text>
<text transform="translate(242.00,836.02) scale(0.9200,1) translate(-9.22,0)" style="font-family:'Liberation Sans';font-size:11.05px;font-weight:normal;stroke:#231f20;stroke-width:0.18px" fill="#231f20">201</text>
<text transform="translate(293.50,836.02) scale(0.9200,1) translate(-9.06,0)" style="font-family:'Liberation Sans';font-size:11.05px;font-weight:normal;stroke:#231f20;stroke-width:0.18px" fill="#231f20">457</text>
<text transform="translate(345.00,836.02) scale(0.9200,1) translate(-9.19,0)" style="font-family:'Liberation Sans';font-size:11.05px;font-weight:normal;stroke:#231f20;stroke-width:0.18px" fill="#231f20">345</text>
<text transform="translate(396.00,836.02) scale(0.9200,1) translate(-13.87,0)" style="font-family:'Liberation Sans';font-size:11.05px;font-weight:normal;stroke:#231f20;stroke-width:0.18px" fill="#231f20">298.5</text>
<text transform="translate(445.50,836.02) scale(0.9200,1) translate(-9.28,0)" style="font-family:'Liberation Sans';font-size:11.05px;font-weight:normal;stroke:#231f20;stroke-width:0.18px" fill="#231f20">270</text>
<text transform="translate(494.00,836.02) scale(0.9200,1) translate(-3.07,0)" style="font-family:'Liberation Sans';font-size:11.05px;font-weight:normal;stroke:#231f20;stroke-width:0.18px" fill="#231f20">2</text>
<text transform="translate(542.50,836.02) scale(0.9200,1) translate(-6.14,0)" style="font-family:'Liberation Sans';font-size:11.05px;font-weight:normal;stroke:#231f20;stroke-width:0.18px" fill="#231f20">27</text>
<text transform="translate(594.10,836.02) scale(0.9200,1) translate(-9.33,0)" style="font-family:'Liberation Sans';font-size:11.05px;font-weight:normal;stroke:#231f20;stroke-width:0.18px" fill="#231f20">8-</text>
<text transform="translate(599.50,837.72) scale(0.7842,1) translate(-4.80,0)" style="font-family:'Liberation Serif';font-size:13.13px;font-weight:normal" fill="#6a6a6a">Φ</text>
<text transform="translate(605.70,836.02) scale(0.9200,1) translate(-0.56,0)" style="font-family:'Liberation Sans';font-size:11.05px;font-weight:normal;stroke:#231f20;stroke-width:0.18px" fill="#231f20">22</text>
<text transform="translate(660.00,836.02) scale(0.9200,1) translate(-9.10,0)" style="font-family:'Liberation Sans';font-size:11.05px;font-weight:normal;stroke:#231f20;stroke-width:0.18px" fill="#231f20">448</text>
<text transform="translate(711.00,836.02) scale(0.9200,1) translate(-12.08,0)" style="font-family:'Liberation Sans';font-size:11.05px;font-weight:normal;stroke:#231f20;stroke-width:0.18px" fill="#231f20">1100</text>
<text transform="translate(140.00,851.70) scale(0.9200,1) translate(-9.83,0)" style="font-family:'Liberation Sans';font-size:11.05px;font-weight:normal;stroke:#231f20;stroke-width:0.18px" fill="#231f20">1/2&quot;</text>
<text transform="translate(191.00,851.70) scale(0.9200,1) translate(-6.33,0)" style="font-family:'Liberation Sans';font-size:11.05px;font-weight:normal;stroke:#231f20;stroke-width:0.18px" fill="#231f20">15</text>
<text transform="translate(242.00,851.70) scale(0.9200,1) translate(-6.32,0)" style="font-family:'Liberation Sans';font-size:11.05px;font-weight:normal;stroke:#231f20;stroke-width:0.18px" fill="#231f20">13</text>
<text transform="translate(293.50,851.70) scale(0.9200,1) translate(-9.42,0)" style="font-family:'Liberation Sans';font-size:11.05px;font-weight:normal;stroke:#231f20;stroke-width:0.18px" fill="#231f20">140</text>
<text transform="translate(345.00,851.70) scale(0.9200,1) translate(-6.17,0)" style="font-family:'Liberation Sans';font-size:11.05px;font-weight:normal;stroke:#231f20;stroke-width:0.18px" fill="#231f20">95</text>
<text transform="translate(396.00,851.70) scale(0.9200,1) translate(-10.80,0)" style="font-family:'Liberation Sans';font-size:11.05px;font-weight:normal;stroke:#231f20;stroke-width:0.18px" fill="#231f20">66.5</text>
<text transform="translate(445.50,851.70) scale(0.9200,1) translate(-6.12,0)" style="font-family:'Liberation Sans';font-size:11.05px;font-weight:normal;stroke:#231f20;stroke-width:0.18px" fill="#231f20">35</text>
<text transform="translate(494.00,851.70) scale(0.9200,1) translate(-3.07,0)" style="font-family:'Liberation Sans';font-size:11.05px;font-weight:normal;stroke:#231f20;stroke-width:0.18px" fill="#231f20">2</text>
<text transform="translate(542.50,851.70) scale(0.9200,1) translate(-6.32,0)" style="font-family:'Liberation Sans';font-size:11.05px;font-weight:normal;stroke:#231f20;stroke-width:0.18px" fill="#231f20">13</text>
<text transform="translate(594.10,851.70) scale(0.9200,1) translate(-9.33,0)" style="font-family:'Liberation Sans';font-size:11.05px;font-weight:normal;stroke:#231f20;stroke-width:0.18px" fill="#231f20">4-</text>
<text transform="translate(599.50,853.40) scale(0.7842,1) translate(-4.80,0)" style="font-family:'Liberation Serif';font-size:13.13px;font-weight:normal" fill="#6a6a6a">Φ</text>
<text transform="translate(605.70,851.70) scale(0.9200,1) translate(-0.84,0)" style="font-family:'Liberation Sans';font-size:11.05px;font-weight:normal;stroke:#231f20;stroke-width:0.18px" fill="#231f20">16</text>
<text transform="translate(660.00,851.70) scale(0.9200,1) translate(-6.17,0)" style="font-family:'Liberation Sans';font-size:11.05px;font-weight:normal;stroke:#231f20;stroke-width:0.18px" fill="#231f20">79</text>
<text transform="translate(711.00,851.70) scale(0.9200,1) translate(-9.42,0)" style="font-family:'Liberation Sans';font-size:11.05px;font-weight:normal;stroke:#231f20;stroke-width:0.18px" fill="#231f20">140</text>
<text transform="translate(140.00,867.38) scale(0.9200,1) translate(-9.61,0)" style="font-family:'Liberation Sans';font-size:11.05px;font-weight:normal;stroke:#231f20;stroke-width:0.18px" fill="#231f20">3/4&quot;</text>
<text transform="translate(191.00,867.38) scale(0.9200,1) translate(-6.21,0)" style="font-family:'Liberation Sans';font-size:11.05px;font-weight:normal;stroke:#231f20;stroke-width:0.18px" fill="#231f20">20</text>
<text transform="translate(242.00,867.38) scale(0.9200,1) translate(-6.30,0)" style="font-family:'Liberation Sans';font-size:11.05px;font-weight:normal;stroke:#231f20;stroke-width:0.18px" fill="#231f20">19</text>
<text transform="translate(293.50,867.38) scale(0.9200,1) translate(-9.36,0)" style="font-family:'Liberation Sans';font-size:11.05px;font-weight:normal;stroke:#231f20;stroke-width:0.18px" fill="#231f20">152</text>
<text transform="translate(345.00,867.38) scale(0.9200,1) translate(-8.99,0)" style="font-family:'Liberation Sans';font-size:11.05px;font-weight:normal;stroke:#231f20;stroke-width:0.18px" fill="#231f20">115</text>
<text transform="translate(396.00,867.38) scale(0.9200,1) translate(-10.76,0)" style="font-family:'Liberation Sans';font-size:11.05px;font-weight:normal;stroke:#231f20;stroke-width:0.18px" fill="#231f20">82.5</text>
<text transform="translate(445.50,867.38) scale(0.9200,1) translate(-6.03,0)" style="font-family:'Liberation Sans';font-size:11.05px;font-weight:normal;stroke:#231f20;stroke-width:0.18px" fill="#231f20">43</text>
<text transform="translate(494.00,867.38) scale(0.9200,1) translate(-3.07,0)" style="font-family:'Liberation Sans';font-size:11.05px;font-weight:normal;stroke:#231f20;stroke-width:0.18px" fill="#231f20">2</text>
<text transform="translate(542.50,867.38) scale(0.9200,1) translate(-10.94,0)" style="font-family:'Liberation Sans';font-size:11.05px;font-weight:normal;stroke:#231f20;stroke-width:0.18px" fill="#231f20">14.5</text>
<text transform="translate(594.10,867.38) scale(0.9200,1) translate(-9.33,0)" style="font-family:'Liberation Sans';font-size:11.05px;font-weight:normal;stroke:#231f20;stroke-width:0.18px" fill="#231f20">4-</text>
<text transform="translate(599.50,869.08) scale(0.7842,1) translate(-4.80,0)" style="font-family:'Liberation Serif';font-size:13.13px;font-weight:normal" fill="#6a6a6a">Φ</text>
<text transform="translate(605.70,867.38) scale(0.9200,1) translate(-0.84,0)" style="font-family:'Liberation Sans';font-size:11.05px;font-weight:normal;stroke:#231f20;stroke-width:0.18px" fill="#231f20">19</text>
<text transform="translate(660.00,867.38) scale(0.9200,1) translate(-6.22,0)" style="font-family:'Liberation Sans';font-size:11.05px;font-weight:normal;stroke:#231f20;stroke-width:0.18px" fill="#231f20">84</text>
<text transform="translate(711.00,867.38) scale(0.9200,1) translate(-9.42,0)" style="font-family:'Liberation Sans';font-size:11.05px;font-weight:normal;stroke:#231f20;stroke-width:0.18px" fill="#231f20">140</text>
<text transform="translate(140.00,883.06) scale(0.9200,1) translate(-5.22,0)" style="font-family:'Liberation Sans';font-size:11.05px;font-weight:normal;stroke:#231f20;stroke-width:0.18px" fill="#231f20">1&quot;</text>
<text transform="translate(191.00,883.06) scale(0.9200,1) translate(-6.19,0)" style="font-family:'Liberation Sans';font-size:11.05px;font-weight:normal;stroke:#231f20;stroke-width:0.18px" fill="#231f20">25</text>
<text transform="translate(242.00,883.06) scale(0.9200,1) translate(-6.19,0)" style="font-family:'Liberation Sans';font-size:11.05px;font-weight:normal;stroke:#231f20;stroke-width:0.18px" fill="#231f20">25</text>
<text transform="translate(293.50,883.06) scale(0.9200,1) translate(-9.40,0)" style="font-family:'Liberation Sans';font-size:11.05px;font-weight:normal;stroke:#231f20;stroke-width:0.18px" fill="#231f20">165</text>
<text transform="translate(345.00,883.06) scale(0.9200,1) translate(-9.40,0)" style="font-family:'Liberation Sans';font-size:11.05px;font-weight:normal;stroke:#231f20;stroke-width:0.18px" fill="#231f20">125</text>
<text transform="translate(396.00,883.06) scale(0.9200,1) translate(-6.12,0)" style="font-family:'Liberation Sans';font-size:11.05px;font-weight:normal;stroke:#231f20;stroke-width:0.18px" fill="#231f20">89</text>
<text transform="translate(445.50,883.06) scale(0.9200,1) translate(-6.10,0)" style="font-family:'Liberation Sans';font-size:11.05px;font-weight:normal;stroke:#231f20;stroke-width:0.18px" fill="#231f20">51</text>
<text transform="translate(494.00,883.06) scale(0.9200,1) translate(-3.07,0)" style="font-family:'Liberation Sans';font-size:11.05px;font-weight:normal;stroke:#231f20;stroke-width:0.18px" fill="#231f20">2</text>
<text transform="translate(542.50,883.06) scale(0.9200,1) translate(-6.32,0)" style="font-family:'Liberation Sans';font-size:11.05px;font-weight:normal;stroke:#231f20;stroke-width:0.18px" fill="#231f20">16</text>
<text transform="translate(594.10,883.06) scale(0.9200,1) translate(-9.33,0)" style="font-family:'Liberation Sans';font-size:11.05px;font-weight:normal;stroke:#231f20;stroke-width:0.18px" fill="#231f20">4-</text>
<text transform="translate(599.50,884.76) scale(0.7842,1) translate(-4.80,0)" style="font-family:'Liberation Serif';font-size:13.13px;font-weight:normal" fill="#6a6a6a">Φ</text>
<text transform="translate(605.70,883.06) scale(0.9200,1) translate(-0.84,0)" style="font-family:'Liberation Sans';font-size:11.05px;font-weight:normal;stroke:#231f20;stroke-width:0.18px" fill="#231f20">19</text>
<text transform="translate(660.00,883.06) scale(0.9200,1) translate(-6.17,0)" style="font-family:'Liberation Sans';font-size:11.05px;font-weight:normal;stroke:#231f20;stroke-width:0.18px" fill="#231f20">95</text>
<text transform="translate(711.00,883.06) scale(0.9200,1) translate(-9.42,0)" style="font-family:'Liberation Sans';font-size:11.05px;font-weight:normal;stroke:#231f20;stroke-width:0.18px" fill="#231f20">180</text>
<text transform="translate(134.60,896.20) scale(0.9200,1) translate(-3.01,0)" style="font-family:'Liberation Sans';font-size:10.32px;font-weight:normal;stroke:#231f20;stroke-width:0.18px" fill="#231f20">1</text>
<text transform="translate(137.80,891.00) scale(0.9000,1) translate(-1.31,0)" style="font-family:'Liberation Sans';font-size:4.5px;font-weight:normal" fill="#231f20">1</text>
<text transform="translate(146.50,897.00) scale(0.9200,1) translate(-1.93,0)" style="font-family:'Liberation Sans';font-size:10.9px;font-weight:normal;stroke:#231f20;stroke-width:0.18px" fill="#231f20">&quot;</text>
<text transform="translate(191.00,898.74) scale(0.9200,1) translate(-6.08,0)" style="font-family:'Liberation Sans';font-size:11.05px;font-weight:normal;stroke:#231f20;stroke-width:0.18px" fill="#231f20">32</text>
<text transform="translate(242.00,898.74) scale(0.9200,1) translate(-6.08,0)" style="font-family:'Liberation Sans';font-size:11.05px;font-weight:normal;stroke:#231f20;stroke-width:0.18px" fill="#231f20">32</text>
<text transform="translate(293.50,898.74) scale(0.9200,1) translate(-9.40,0)" style="font-family:'Liberation Sans';font-size:11.05px;font-weight:normal;stroke:#231f20;stroke-width:0.18px" fill="#231f20">178</text>
<text transform="translate(345.00,898.74) scale(0.9200,1) translate(-9.40,0)" style="font-family:'Liberation Sans';font-size:11.05px;font-weight:normal;stroke:#231f20;stroke-width:0.18px" fill="#231f20">135</text>
<text transform="translate(396.00,898.74) scale(0.9200,1) translate(-10.78,0)" style="font-family:'Liberation Sans';font-size:11.05px;font-weight:normal;stroke:#231f20;stroke-width:0.18px" fill="#231f20">98.5</text>
<text transform="translate(445.50,898.74) scale(0.9200,1) translate(-6.26,0)" style="font-family:'Liberation Sans';font-size:11.05px;font-weight:normal;stroke:#231f20;stroke-width:0.18px" fill="#231f20">64</text>
<text transform="translate(494.00,898.74) scale(0.9200,1) translate(-3.07,0)" style="font-family:'Liberation Sans';font-size:11.05px;font-weight:normal;stroke:#231f20;stroke-width:0.18px" fill="#231f20">2</text>
<text transform="translate(542.50,898.74) scale(0.9200,1) translate(-10.94,0)" style="font-family:'Liberation Sans';font-size:11.05px;font-weight:normal;stroke:#231f20;stroke-width:0.18px" fill="#231f20">17.5</text>
<text transform="translate(594.10,898.74) scale(0.9200,1) translate(-9.33,0)" style="font-family:'Liberation Sans';font-size:11.05px;font-weight:normal;stroke:#231f20;stroke-width:0.18px" fill="#231f20">4-</text>
<text transform="translate(599.50,900.44) scale(0.7842,1) translate(-4.80,0)" style="font-family:'Liberation Serif';font-size:13.13px;font-weight:normal" fill="#6a6a6a">Φ</text>
<text transform="translate(605.70,898.74) scale(0.9200,1) translate(-0.84,0)" style="font-family:'Liberation Sans';font-size:11.05px;font-weight:normal;stroke:#231f20;stroke-width:0.18px" fill="#231f20">19</text>
<text transform="translate(660.00,898.74) scale(0.9200,1) translate(-9.39,0)" style="font-family:'Liberation Sans';font-size:11.05px;font-weight:normal;stroke:#231f20;stroke-width:0.18px" fill="#231f20">103</text>
<text transform="translate(711.00,898.74) scale(0.9200,1) translate(-9.42,0)" style="font-family:'Liberation Sans';font-size:11.05px;font-weight:normal;stroke:#231f20;stroke-width:0.18px" fill="#231f20">180</text>
<text transform="translate(134.60,912.20) scale(0.9200,1) translate(-3.01,0)" style="font-family:'Liberation Sans';font-size:10.32px;font-weight:normal;stroke:#231f20;stroke-width:0.18px" fill="#231f20">1</text>
<text transform="translate(137.80,907.00) scale(0.9000,1) translate(-1.31,0)" style="font-family:'Liberation Sans';font-size:4.5px;font-weight:normal" fill="#231f20">1</text>
<text transform="translate(146.50,913.00) scale(0.9200,1) translate(-1.93,0)" style="font-family:'Liberation Sans';font-size:10.9px;font-weight:normal;stroke:#231f20;stroke-width:0.18px" fill="#231f20">&quot;</text>
<text transform="translate(191.00,914.42) scale(0.9200,1) translate(-6.05,0)" style="font-family:'Liberation Sans';font-size:11.05px;font-weight:normal;stroke:#231f20;stroke-width:0.18px" fill="#231f20">40</text>
<text transform="translate(242.00,914.42) scale(0.9200,1) translate(-6.11,0)" style="font-family:'Liberation Sans';font-size:11.05px;font-weight:normal;stroke:#231f20;stroke-width:0.18px" fill="#231f20">38</text>
<text transform="translate(293.50,914.42) scale(0.9200,1) translate(-9.42,0)" style="font-family:'Liberation Sans';font-size:11.05px;font-weight:normal;stroke:#231f20;stroke-width:0.18px" fill="#231f20">190</text>
<text transform="translate(345.00,914.42) scale(0.9200,1) translate(-9.40,0)" style="font-family:'Liberation Sans';font-size:11.05px;font-weight:normal;stroke:#231f20;stroke-width:0.18px" fill="#231f20">155</text>
<text transform="translate(396.00,914.42) scale(0.9200,1) translate(-13.60,0)" style="font-family:'Liberation Sans';font-size:11.05px;font-weight:normal;stroke:#231f20;stroke-width:0.18px" fill="#231f20">114.5</text>
<text transform="translate(445.50,914.42) scale(0.9200,1) translate(-6.18,0)" style="font-family:'Liberation Sans';font-size:11.05px;font-weight:normal;stroke:#231f20;stroke-width:0.18px" fill="#231f20">73</text>
<text transform="translate(494.00,914.42) scale(0.9200,1) translate(-3.07,0)" style="font-family:'Liberation Sans';font-size:11.05px;font-weight:normal;stroke:#231f20;stroke-width:0.18px" fill="#231f20">2</text>
<text transform="translate(542.50,914.42) scale(0.9200,1) translate(-10.94,0)" style="font-family:'Liberation Sans';font-size:11.05px;font-weight:normal;stroke:#231f20;stroke-width:0.18px" fill="#231f20">19.5</text>
<text transform="translate(594.10,914.42) scale(0.9200,1) translate(-9.33,0)" style="font-family:'Liberation Sans';font-size:11.05px;font-weight:normal;stroke:#231f20;stroke-width:0.18px" fill="#231f20">4-</text>
<text transform="translate(599.50,916.12) scale(0.7842,1) translate(-4.80,0)" style="font-family:'Liberation Serif';font-size:13.13px;font-weight:normal" fill="#6a6a6a">Φ</text>
<text transform="translate(605.70,914.42) scale(0.9200,1) translate(-0.56,0)" style="font-family:'Liberation Sans';font-size:11.05px;font-weight:normal;stroke:#231f20;stroke-width:0.18px" fill="#231f20">22</text>
<text transform="translate(660.00,914.42) scale(0.9200,1) translate(-8.55,0)" style="font-family:'Liberation Sans';font-size:11.05px;font-weight:normal;stroke:#231f20;stroke-width:0.18px" fill="#231f20">111</text>
<text transform="translate(711.00,914.42) scale(0.9200,1) translate(-9.28,0)" style="font-family:'Liberation Sans';font-size:11.05px;font-weight:normal;stroke:#231f20;stroke-width:0.18px" fill="#231f20">200</text>
<text transform="translate(140.00,930.10) scale(0.9200,1) translate(-5.08,0)" style="font-family:'Liberation Sans';font-size:11.05px;font-weight:normal;stroke:#231f20;stroke-width:0.18px" fill="#231f20">2&quot;</text>
<text transform="translate(191.00,930.10) scale(0.9200,1) translate(-6.15,0)" style="font-family:'Liberation Sans';font-size:11.05px;font-weight:normal;stroke:#231f20;stroke-width:0.18px" fill="#231f20">50</text>
<text transform="translate(242.00,930.10) scale(0.9200,1) translate(-6.15,0)" style="font-family:'Liberation Sans';font-size:11.05px;font-weight:normal;stroke:#231f20;stroke-width:0.18px" fill="#231f20">50</text>
<text transform="translate(293.50,930.10) scale(0.9200,1) translate(-9.25,0)" style="font-family:'Liberation Sans';font-size:11.05px;font-weight:normal;stroke:#231f20;stroke-width:0.18px" fill="#231f20">216</text>
<text transform="translate(345.00,930.10) scale(0.9200,1) translate(-9.40,0)" style="font-family:'Liberation Sans';font-size:11.05px;font-weight:normal;stroke:#231f20;stroke-width:0.18px" fill="#231f20">165</text>
<text transform="translate(396.00,930.10) scale(0.9200,1) translate(-9.36,0)" style="font-family:'Liberation Sans';font-size:11.05px;font-weight:normal;stroke:#231f20;stroke-width:0.18px" fill="#231f20">127</text>
<text transform="translate(445.50,930.10) scale(0.9200,1) translate(-6.12,0)" style="font-family:'Liberation Sans';font-size:11.05px;font-weight:normal;stroke:#231f20;stroke-width:0.18px" fill="#231f20">92</text>
<text transform="translate(494.00,930.10) scale(0.9200,1) translate(-3.07,0)" style="font-family:'Liberation Sans';font-size:11.05px;font-weight:normal;stroke:#231f20;stroke-width:0.18px" fill="#231f20">2</text>
<text transform="translate(542.50,930.10) scale(0.9200,1) translate(-6.15,0)" style="font-family:'Liberation Sans';font-size:11.05px;font-weight:normal;stroke:#231f20;stroke-width:0.18px" fill="#231f20">21</text>
<text transform="translate(594.10,930.10) scale(0.9200,1) translate(-9.33,0)" style="font-family:'Liberation Sans';font-size:11.05px;font-weight:normal;stroke:#231f20;stroke-width:0.18px" fill="#231f20">8-</text>
<text transform="translate(599.50,931.80) scale(0.7842,1) translate(-4.80,0)" style="font-family:'Liberation Serif';font-size:13.13px;font-weight:normal" fill="#6a6a6a">Φ</text>
<text transform="translate(605.70,930.10) scale(0.9200,1) translate(-0.84,0)" style="font-family:'Liberation Sans';font-size:11.05px;font-weight:normal;stroke:#231f20;stroke-width:0.18px" fill="#231f20">19</text>
<text transform="translate(660.00,930.10) scale(0.9200,1) translate(-9.42,0)" style="font-family:'Liberation Sans';font-size:11.05px;font-weight:normal;stroke:#231f20;stroke-width:0.18px" fill="#231f20">120</text>
<text transform="translate(711.00,930.10) scale(0.9200,1) translate(-9.28,0)" style="font-family:'Liberation Sans';font-size:11.05px;font-weight:normal;stroke:#231f20;stroke-width:0.18px" fill="#231f20">200</text>
<text transform="translate(140.00,945.78) scale(0.9200,1) translate(-5.01,0)" style="font-family:'Liberation Sans';font-size:11.05px;font-weight:normal;stroke:#231f20;stroke-width:0.18px" fill="#231f20">3&quot;</text>
<text transform="translate(191.00,945.78) scale(0.9200,1) translate(-6.17,0)" style="font-family:'Liberation Sans';font-size:11.05px;font-weight:normal;stroke:#231f20;stroke-width:0.18px" fill="#231f20">80</text>
<text transform="translate(242.00,945.78) scale(0.9200,1) translate(-6.20,0)" style="font-family:'Liberation Sans';font-size:11.05px;font-weight:normal;stroke:#231f20;stroke-width:0.18px" fill="#231f20">75</text>
<text transform="translate(293.50,945.78) scale(0.9200,1) translate(-9.25,0)" style="font-family:'Liberation Sans';font-size:11.05px;font-weight:normal;stroke:#231f20;stroke-width:0.18px" fill="#231f20">283</text>
<text transform="translate(345.00,945.78) scale(0.9200,1) translate(-9.28,0)" style="font-family:'Liberation Sans';font-size:11.05px;font-weight:normal;stroke:#231f20;stroke-width:0.18px" fill="#231f20">210</text>
<text transform="translate(396.00,945.78) scale(0.9200,1) translate(-14.01,0)" style="font-family:'Liberation Sans';font-size:11.05px;font-weight:normal;stroke:#231f20;stroke-width:0.18px" fill="#231f20">168.5</text>
<text transform="translate(445.50,945.78) scale(0.9200,1) translate(-9.36,0)" style="font-family:'Liberation Sans';font-size:11.05px;font-weight:normal;stroke:#231f20;stroke-width:0.18px" fill="#231f20">127</text>
<text transform="translate(494.00,945.78) scale(0.9200,1) translate(-3.07,0)" style="font-family:'Liberation Sans';font-size:11.05px;font-weight:normal;stroke:#231f20;stroke-width:0.18px" fill="#231f20">2</text>
<text transform="translate(542.50,945.78) scale(0.9200,1) translate(-6.14,0)" style="font-family:'Liberation Sans';font-size:11.05px;font-weight:normal;stroke:#231f20;stroke-width:0.18px" fill="#231f20">27</text>
<text transform="translate(594.10,945.78) scale(0.9200,1) translate(-9.33,0)" style="font-family:'Liberation Sans';font-size:11.05px;font-weight:normal;stroke:#231f20;stroke-width:0.18px" fill="#231f20">8-</text>
<text transform="translate(599.50,947.48) scale(0.7842,1) translate(-4.80,0)" style="font-family:'Liberation Serif';font-size:13.13px;font-weight:normal" fill="#6a6a6a">Φ</text>
<text transform="translate(605.70,945.78) scale(0.9200,1) translate(-0.56,0)" style="font-family:'Liberation Sans';font-size:11.05px;font-weight:normal;stroke:#231f20;stroke-width:0.18px" fill="#231f20">22</text>
<text transform="translate(660.00,945.78) scale(0.9200,1) translate(-9.39,0)" style="font-family:'Liberation Sans';font-size:11.05px;font-weight:normal;stroke:#231f20;stroke-width:0.18px" fill="#231f20">163</text>
<text transform="translate(711.00,945.78) scale(0.9200,1) translate(-9.21,0)" style="font-family:'Liberation Sans';font-size:11.05px;font-weight:normal;stroke:#231f20;stroke-width:0.18px" fill="#231f20">300</text>
<text transform="translate(140.00,961.46) scale(0.9200,1) translate(-4.92,0)" style="font-family:'Liberation Sans';font-size:11.05px;font-weight:normal;stroke:#231f20;stroke-width:0.18px" fill="#231f20">4&quot;</text>
<text transform="translate(191.00,961.46) scale(0.9200,1) translate(-9.42,0)" style="font-family:'Liberation Sans';font-size:11.05px;font-weight:normal;stroke:#231f20;stroke-width:0.18px" fill="#231f20">100</text>
<text transform="translate(242.00,961.46) scale(0.9200,1) translate(-9.42,0)" style="font-family:'Liberation Sans';font-size:11.05px;font-weight:normal;stroke:#231f20;stroke-width:0.18px" fill="#231f20">100</text>
<text transform="translate(293.50,961.46) scale(0.9200,1) translate(-9.19,0)" style="font-family:'Liberation Sans';font-size:11.05px;font-weight:normal;stroke:#231f20;stroke-width:0.18px" fill="#231f20">305</text>
<text transform="translate(345.00,961.46) scale(0.9200,1) translate(-9.26,0)" style="font-family:'Liberation Sans';font-size:11.05px;font-weight:normal;stroke:#231f20;stroke-width:0.18px" fill="#231f20">255</text>
<text transform="translate(396.00,961.46) scale(0.9200,1) translate(-9.28,0)" style="font-family:'Liberation Sans';font-size:11.05px;font-weight:normal;stroke:#231f20;stroke-width:0.18px" fill="#231f20">200</text>
<text transform="translate(445.50,961.46) scale(0.9200,1) translate(-9.36,0)" style="font-family:'Liberation Sans';font-size:11.05px;font-weight:normal;stroke:#231f20;stroke-width:0.18px" fill="#231f20">157</text>
<text transform="translate(494.00,961.46) scale(0.9200,1) translate(-3.07,0)" style="font-family:'Liberation Sans';font-size:11.05px;font-weight:normal;stroke:#231f20;stroke-width:0.18px" fill="#231f20">2</text>
<text transform="translate(542.50,961.46) scale(0.9200,1) translate(-10.73,0)" style="font-family:'Liberation Sans';font-size:11.05px;font-weight:normal;stroke:#231f20;stroke-width:0.18px" fill="#231f20">30.5</text>
<text transform="translate(594.10,961.46) scale(0.9200,1) translate(-9.33,0)" style="font-family:'Liberation Sans';font-size:11.05px;font-weight:normal;stroke:#231f20;stroke-width:0.18px" fill="#231f20">8-</text>
<text transform="translate(599.50,963.16) scale(0.7842,1) translate(-4.80,0)" style="font-family:'Liberation Serif';font-size:13.13px;font-weight:normal" fill="#6a6a6a">Φ</text>
<text transform="translate(605.70,961.46) scale(0.9200,1) translate(-0.56,0)" style="font-family:'Liberation Sans';font-size:11.05px;font-weight:normal;stroke:#231f20;stroke-width:0.18px" fill="#231f20">22</text>
<text transform="translate(660.00,961.46) scale(0.9200,1) translate(-9.36,0)" style="font-family:'Liberation Sans';font-size:11.05px;font-weight:normal;stroke:#231f20;stroke-width:0.18px" fill="#231f20">182</text>
<text transform="translate(711.00,961.46) scale(0.9200,1) translate(-9.13,0)" style="font-family:'Liberation Sans';font-size:11.05px;font-weight:normal;stroke:#231f20;stroke-width:0.18px" fill="#231f20">400</text>
<text transform="translate(140.00,977.14) scale(0.9200,1) translate(-5.08,0)" style="font-family:'Liberation Sans';font-size:11.05px;font-weight:normal;stroke:#231f20;stroke-width:0.18px" fill="#231f20">6&quot;</text>
<text transform="translate(191.00,977.14) scale(0.9200,1) translate(-9.42,0)" style="font-family:'Liberation Sans';font-size:11.05px;font-weight:normal;stroke:#231f20;stroke-width:0.18px" fill="#231f20">150</text>
<text transform="translate(242.00,977.14) scale(0.9200,1) translate(-9.42,0)" style="font-family:'Liberation Sans';font-size:11.05px;font-weight:normal;stroke:#231f20;stroke-width:0.18px" fill="#231f20">150</text>
<text transform="translate(293.50,977.14) scale(0.9200,1) translate(-9.10,0)" style="font-family:'Liberation Sans';font-size:11.05px;font-weight:normal;stroke:#231f20;stroke-width:0.18px" fill="#231f20">403</text>
<text transform="translate(345.00,977.14) scale(0.9200,1) translate(-9.21,0)" style="font-family:'Liberation Sans';font-size:11.05px;font-weight:normal;stroke:#231f20;stroke-width:0.18px" fill="#231f20">320</text>
<text transform="translate(396.00,977.14) scale(0.9200,1) translate(-9.28,0)" style="font-family:'Liberation Sans';font-size:11.05px;font-weight:normal;stroke:#231f20;stroke-width:0.18px" fill="#231f20">270</text>
<text transform="translate(445.50,977.14) scale(0.9200,1) translate(-9.25,0)" style="font-family:'Liberation Sans';font-size:11.05px;font-weight:normal;stroke:#231f20;stroke-width:0.18px" fill="#231f20">216</text>
<text transform="translate(494.00,977.14) scale(0.9200,1) translate(-3.07,0)" style="font-family:'Liberation Sans';font-size:11.05px;font-weight:normal;stroke:#231f20;stroke-width:0.18px" fill="#231f20">2</text>
<text transform="translate(542.50,977.14) scale(0.9200,1) translate(-6.12,0)" style="font-family:'Liberation Sans';font-size:11.05px;font-weight:normal;stroke:#231f20;stroke-width:0.18px" fill="#231f20">35</text>
<text transform="translate(596.70,977.14) scale(0.9200,1) translate(-15.48,0)" style="font-family:'Liberation Sans';font-size:11.05px;font-weight:normal;stroke:#231f20;stroke-width:0.18px" fill="#231f20">12-</text>
<text transform="translate(601.90,978.84) scale(0.7842,1) translate(-4.80,0)" style="font-family:'Liberation Serif';font-size:13.13px;font-weight:normal" fill="#6a6a6a">Φ</text>
<text transform="translate(607.20,977.14) scale(0.9200,1) translate(-0.56,0)" style="font-family:'Liberation Sans';font-size:11.05px;font-weight:normal;stroke:#231f20;stroke-width:0.18px" fill="#231f20">22</text>
<text transform="translate(660.00,977.14) scale(0.9200,1) translate(-9.28,0)" style="font-family:'Liberation Sans';font-size:11.05px;font-weight:normal;stroke:#231f20;stroke-width:0.18px" fill="#231f20">280</text>
<text transform="translate(711.00,977.14) scale(0.9200,1) translate(-9.24,0)" style="font-family:'Liberation Sans';font-size:11.05px;font-weight:normal;stroke:#231f20;stroke-width:0.18px" fill="#231f20">800</text>
<text transform="translate(140.00,992.82) scale(0.9200,1) translate(-5.04,0)" style="font-family:'Liberation Sans';font-size:11.05px;font-weight:normal;stroke:#231f20;stroke-width:0.18px" fill="#231f20">8&quot;</text>
<text transform="translate(191.00,992.82) scale(0.9200,1) translate(-9.28,0)" style="font-family:'Liberation Sans';font-size:11.05px;font-weight:normal;stroke:#231f20;stroke-width:0.18px" fill="#231f20">200</text>
<text transform="translate(242.00,992.82) scale(0.9200,1) translate(-9.22,0)" style="font-family:'Liberation Sans';font-size:11.05px;font-weight:normal;stroke:#231f20;stroke-width:0.18px" fill="#231f20">201</text>
<text transform="translate(293.50,992.82) scale(0.9200,1) translate(-9.16,0)" style="font-family:'Liberation Sans';font-size:11.05px;font-weight:normal;stroke:#231f20;stroke-width:0.18px" fill="#231f20">502</text>
<text transform="translate(345.00,992.82) scale(0.9200,1) translate(-9.21,0)" style="font-family:'Liberation Sans';font-size:11.05px;font-weight:normal;stroke:#231f20;stroke-width:0.18px" fill="#231f20">380</text>
<text transform="translate(396.00,992.82) scale(0.9200,1) translate(-9.21,0)" style="font-family:'Liberation Sans';font-size:11.05px;font-weight:normal;stroke:#231f20;stroke-width:0.18px" fill="#231f20">330</text>
<text transform="translate(445.50,992.82) scale(0.9200,1) translate(-9.28,0)" style="font-family:'Liberation Sans';font-size:11.05px;font-weight:normal;stroke:#231f20;stroke-width:0.18px" fill="#231f20">270</text>
<text transform="translate(494.00,992.82) scale(0.9200,1) translate(-3.07,0)" style="font-family:'Liberation Sans';font-size:11.05px;font-weight:normal;stroke:#231f20;stroke-width:0.18px" fill="#231f20">2</text>
<text transform="translate(542.50,992.82) scale(0.9200,1) translate(-6.05,0)" style="font-family:'Liberation Sans';font-size:11.05px;font-weight:normal;stroke:#231f20;stroke-width:0.18px" fill="#231f20">40</text>
<text transform="translate(596.70,992.82) scale(0.9200,1) translate(-15.48,0)" style="font-family:'Liberation Sans';font-size:11.05px;font-weight:normal;stroke:#231f20;stroke-width:0.18px" fill="#231f20">12-</text>
<text transform="translate(601.90,994.52) scale(0.7842,1) translate(-4.80,0)" style="font-family:'Liberation Serif';font-size:13.13px;font-weight:normal" fill="#6a6a6a">Φ</text>
<text transform="translate(607.20,992.82) scale(0.9200,1) translate(-0.56,0)" style="font-family:'Liberation Sans';font-size:11.05px;font-weight:normal;stroke:#231f20;stroke-width:0.18px" fill="#231f20">25</text>
<text transform="translate(660.00,992.82) scale(0.9200,1) translate(-9.10,0)" style="font-family:'Liberation Sans';font-size:11.05px;font-weight:normal;stroke:#231f20;stroke-width:0.18px" fill="#231f20">448</text>
<text transform="translate(711.00,992.82) scale(0.9200,1) translate(-12.08,0)" style="font-family:'Liberation Sans';font-size:11.05px;font-weight:normal;stroke:#231f20;stroke-width:0.18px" fill="#231f20">1100</text>
<text transform="translate(865.40,649.10) scale(0.8689,1) translate(-0.91,0)" style="font-family:'Liberation Sans';font-size:11.05px;font-weight:normal;stroke:#231f20;stroke-width:0.18px" fill="#231f20">Nominal diameter(in)</text>
<text transform="translate(865.40,672.00) scale(0.8386,1) translate(-0.91,0)" style="font-family:'Liberation Sans';font-size:11.05px;font-weight:normal;stroke:#231f20;stroke-width:0.18px" fill="#231f20">Nominal pressure(Class)</text>
<text transform="translate(1287.60,650.20) scale(0.8940,1) translate(-27.08,0)" style="font-family:'Liberation Sans';font-size:11.05px;font-weight:normal;stroke:#231f20;stroke-width:0.18px" fill="#231f20">NPS 1/2~8</text>
<text transform="translate(1287.00,672.90) scale(0.8517,1) translate(-49.34,0)" style="font-family:'Liberation Sans';font-size:11.05px;font-weight:normal;stroke:#231f20;stroke-width:0.18px" fill="#231f20">Class150~Class300</text>
<text transform="translate(922.00,706.70) scale(0.9489,1) translate(-7.28,0)" style="font-family:'Liberation Sans';font-size:11.05px;font-weight:normal;stroke:#231f20;stroke-width:0.18px" fill="#231f20">No</text>
<text transform="translate(995.80,706.70) scale(0.8249,1) translate(-26.61,0)" style="font-family:'Liberation Sans';font-size:11.05px;font-weight:normal;stroke:#231f20;stroke-width:0.18px" fill="#231f20">Part Name</text>
<text transform="translate(1287.00,695.30) scale(0.9749,1) translate(-19.73,0)" style="font-family:'Liberation Sans';font-size:11.05px;font-weight:normal;stroke:#231f20;stroke-width:0.18px" fill="#231f20">Material</text>
<text transform="translate(1092.60,718.50) scale(0.8294,1) translate(-32.15,0)" style="font-family:'Liberation Sans';font-size:11.05px;font-weight:normal;stroke:#231f20;stroke-width:0.18px" fill="#231f20">Carbon Steel</text>
<text transform="translate(1287.70,717.80) scale(0.8339,1) translate(-36.42,0)" style="font-family:'Liberation Sans';font-size:11.05px;font-weight:normal;stroke:#231f20;stroke-width:0.18px" fill="#231f20">Stainless Steel</text>
<text transform="translate(872.60,752.50) scale(0.7861,1) translate(-22.66,0)" style="font-family:'Liberation Sans';font-size:11.05px;font-weight:normal;stroke:#231f20;stroke-width:0.18px" fill="#231f20">Materials</text>
<text transform="translate(874.40,771.20) scale(0.8755,1) translate(-18.45,0)" style="font-family:'Liberation Sans';font-size:11.05px;font-weight:normal;stroke:#231f20;stroke-width:0.18px" fill="#231f20">of parts</text>
<text transform="translate(922.00,740.20) scale(0.9200,1) translate(-3.22,0)" style="font-family:'Liberation Sans';font-size:11.05px;font-weight:normal;stroke:#231f20;stroke-width:0.18px" fill="#231f20">1</text>
<text transform="translate(995.00,740.20) scale(0.8948,1) translate(-13.03,0)" style="font-family:'Liberation Sans';font-size:11.05px;font-weight:normal;stroke:#231f20;stroke-width:0.18px" fill="#231f20">Body</text>
<text transform="translate(1092.00,740.20) scale(0.7677,1) translate(-43.92,0)" style="font-family:'Liberation Sans';font-size:11.05px;font-weight:normal;stroke:#231f20;stroke-width:0.18px" fill="#231f20">ASTM A216 WCB</text>
<text transform="translate(1189.50,740.20) scale(0.7663,1) translate(-41.52,0)" style="font-family:'Liberation Sans';font-size:11.05px;font-weight:normal;stroke:#231f20;stroke-width:0.18px" fill="#231f20">ASTM A351 CF8</text>
<text transform="translate(1287.00,740.20) scale(0.7672,1) translate(-45.91,0)" style="font-family:'Liberation Sans';font-size:11.05px;font-weight:normal;stroke:#231f20;stroke-width:0.18px" fill="#231f20">ASTM A351 CF8M</text>
<text transform="translate(1384.00,740.20) scale(0.7580,1) translate(-41.51,0)" style="font-family:'Liberation Sans';font-size:11.05px;font-weight:normal;stroke:#231f20;stroke-width:0.18px" fill="#231f20">ASTM A351 CF3</text>
<text transform="translate(1481.00,740.20) scale(0.7584,1) translate(-45.91,0)" style="font-family:'Liberation Sans';font-size:11.05px;font-weight:normal;stroke:#231f20;stroke-width:0.18px" fill="#231f20">ASTM A351 CF3M</text>
<text transform="translate(922.00,763.20) scale(0.9200,1) translate(-3.07,0)" style="font-family:'Liberation Sans';font-size:11.05px;font-weight:normal;stroke:#231f20;stroke-width:0.18px" fill="#231f20">2</text>
<text transform="translate(995.00,763.20) scale(0.8807,1) translate(-11.57,0)" style="font-family:'Liberation Sans';font-size:11.05px;font-weight:normal;stroke:#231f20;stroke-width:0.18px" fill="#231f20">Seat</text>
<text transform="translate(1092.00,763.20) scale(0.7207,1) translate(-27.90,0)" style="font-family:'Liberation Sans';font-size:11.05px;font-weight:normal;stroke:#231f20;stroke-width:0.18px" fill="#231f20">PTFE/ PPL</text>
<text transform="translate(1189.50,763.20) scale(0.7207,1) translate(-27.90,0)" style="font-family:'Liberation Sans';font-size:11.05px;font-weight:normal;stroke:#231f20;stroke-width:0.18px" fill="#231f20">PTFE/ PPL</text>
<text transform="translate(1287.00,763.20) scale(0.7207,1) translate(-27.90,0)" style="font-family:'Liberation Sans';font-size:11.05px;font-weight:normal;stroke:#231f20;stroke-width:0.18px" fill="#231f20">PTFE/ PPL</text>
<text transform="translate(1384.00,763.20) scale(0.7207,1) translate(-27.90,0)" style="font-family:'Liberation Sans';font-size:11.05px;font-weight:normal;stroke:#231f20;stroke-width:0.18px" fill="#231f20">PTFE/ PPL</text>
<text transform="translate(1481.00,763.20) scale(0.7207,1) translate(-27.90,0)" style="font-family:'Liberation Sans';font-size:11.05px;font-weight:normal;stroke:#231f20;stroke-width:0.18px" fill="#231f20">PTFE/ PPL</text>
<text transform="translate(922.00,785.70) scale(0.9200,1) translate(-3.04,0)" style="font-family:'Liberation Sans';font-size:11.05px;font-weight:normal;stroke:#231f20;stroke-width:0.18px" fill="#231f20">3</text>
<text transform="translate(995.00,785.70) scale(0.9240,1) translate(-9.29,0)" style="font-family:'Liberation Sans';font-size:11.05px;font-weight:normal;stroke:#231f20;stroke-width:0.18px" fill="#231f20">Ball</text>
<text transform="translate(1092.00,785.70) scale(0.8498,1) translate(-45.86,0)" style="font-family:'Liberation Sans';font-size:11.05px;font-weight:normal;stroke:#231f20;stroke-width:0.18px" fill="#231f20">ASTM A105 • ENP</text>
<text transform="translate(1189.50,785.70) scale(0.7880,1) translate(-40.38,0)" style="font-family:'Liberation Sans';font-size:11.05px;font-weight:normal;stroke:#231f20;stroke-width:0.18px" fill="#231f20">ASTM A182 304</text>
<text transform="translate(1287.00,785.70) scale(0.7896,1) translate(-40.30,0)" style="font-family:'Liberation Sans';font-size:11.05px;font-weight:normal;stroke:#231f20;stroke-width:0.18px" fill="#231f20">ASTM A182 316</text>
<text transform="translate(1384.00,785.70) scale(0.7845,1) translate(-43.43,0)" style="font-family:'Liberation Sans';font-size:11.05px;font-weight:normal;stroke:#231f20;stroke-width:0.18px" fill="#231f20">ASTM A182 304L</text>
<text transform="translate(1481.00,785.70) scale(0.7845,1) translate(-43.43,0)" style="font-family:'Liberation Sans';font-size:11.05px;font-weight:normal;stroke:#231f20;stroke-width:0.18px" fill="#231f20">ASTM A182 316L</text>
<text transform="translate(922.00,808.20) scale(0.9200,1) translate(-3.04,0)" style="font-family:'Liberation Sans';font-size:11.05px;font-weight:normal;stroke:#231f20;stroke-width:0.18px" fill="#231f20">4</text>
<text transform="translate(995.00,808.20) scale(0.9164,1) translate(-12.78,0)" style="font-family:'Liberation Sans';font-size:11.05px;font-weight:normal;stroke:#231f20;stroke-width:0.18px" fill="#231f20">Stem</text>
<text transform="translate(1092.00,808.20) scale(0.8023,1) translate(-40.84,0)" style="font-family:'Liberation Sans';font-size:11.05px;font-weight:normal;stroke:#231f20;stroke-width:0.18px" fill="#231f20">ASTM A182 F6a</text>
<text transform="translate(1189.50,808.20) scale(0.7880,1) translate(-40.38,0)" style="font-family:'Liberation Sans';font-size:11.05px;font-weight:normal;stroke:#231f20;stroke-width:0.18px" fill="#231f20">ASTM A182 304</text>
<text transform="translate(1287.00,808.20) scale(0.7896,1) translate(-40.30,0)" style="font-family:'Liberation Sans';font-size:11.05px;font-weight:normal;stroke:#231f20;stroke-width:0.18px" fill="#231f20">ASTM A182 316</text>
<text transform="translate(1384.00,808.20) scale(0.7845,1) translate(-43.43,0)" style="font-family:'Liberation Sans';font-size:11.05px;font-weight:normal;stroke:#231f20;stroke-width:0.18px" fill="#231f20">ASTM A182 304L</text>
<text transform="translate(1481.00,808.20) scale(0.7845,1) translate(-43.43,0)" style="font-family:'Liberation Sans';font-size:11.05px;font-weight:normal;stroke:#231f20;stroke-width:0.18px" fill="#231f20">ASTM A182 316L</text>
<text transform="translate(922.00,831.20) scale(0.9200,1) translate(-3.06,0)" style="font-family:'Liberation Sans';font-size:11.05px;font-weight:normal;stroke:#231f20;stroke-width:0.18px" fill="#231f20">5</text>
<text transform="translate(995.00,831.20) scale(0.9288,1) translate(-19.75,0)" style="font-family:'Liberation Sans';font-size:11.05px;font-weight:normal;stroke:#231f20;stroke-width:0.18px" fill="#231f20">Packing</text>
<text transform="translate(1092.00,831.20) scale(0.9680,1) translate(-21.22,0)" style="font-family:'Liberation Sans';font-size:11.05px;font-weight:normal;stroke:#231f20;stroke-width:0.18px" fill="#231f20">Graphite</text>
<text transform="translate(1189.50,831.20) scale(0.9680,1) translate(-21.22,0)" style="font-family:'Liberation Sans';font-size:11.05px;font-weight:normal;stroke:#231f20;stroke-width:0.18px" fill="#231f20">Graphite</text>
<text transform="translate(1287.00,831.20) scale(0.9680,1) translate(-21.22,0)" style="font-family:'Liberation Sans';font-size:11.05px;font-weight:normal;stroke:#231f20;stroke-width:0.18px" fill="#231f20">Graphite</text>
<text transform="translate(1384.00,831.20) scale(0.9680,1) translate(-21.22,0)" style="font-family:'Liberation Sans';font-size:11.05px;font-weight:normal;stroke:#231f20;stroke-width:0.18px" fill="#231f20">Graphite</text>
<text transform="translate(1481.00,831.20) scale(0.9680,1) translate(-21.22,0)" style="font-family:'Liberation Sans';font-size:11.05px;font-weight:normal;stroke:#231f20;stroke-width:0.18px" fill="#231f20">Graphite</text>
<text transform="translate(896.90,858.70) scale(0.7682,1) translate(-44.28,0)" style="font-family:'Liberation Sans';font-size:11.05px;font-weight:normal;stroke:#231f20;stroke-width:0.18px" fill="#231f20">Applicable service</text>
<text transform="translate(900.20,871.90) scale(0.9003,1) translate(-24.91,0)" style="font-family:'Liberation Sans';font-size:11.05px;font-weight:normal;stroke:#231f20;stroke-width:0.18px" fill="#231f20">conditions</text>
<text transform="translate(995.00,852.70) scale(0.8085,1) translate(-42.08,0)" style="font-family:'Liberation Sans';font-size:11.05px;font-weight:normal;stroke:#231f20;stroke-width:0.18px" fill="#231f20">Applicable media</text>
<text transform="translate(1093.20,849.00) scale(0.8426,1) translate(-32.67,0)" style="font-family:'Liberation Sans';font-size:6.69px;font-weight:normal" fill="#231f20">Water, steam, oil, gas,</text>
<text transform="translate(1093.75,856.60) scale(0.8457,1) translate(-42.49,0)" style="font-family:'Liberation Sans';font-size:6.69px;font-weight:normal" fill="#231f20">liquefied gas,natural gas,etc.</text>
<text transform="translate(1189.00,854.00) scale(0.8545,1) translate(-24.96,0)" style="font-family:'Liberation Sans';font-size:11.05px;font-weight:normal;stroke:#231f20;stroke-width:0.18px" fill="#231f20">Nitric Acid</text>
<text transform="translate(1286.50,854.00) scale(0.8545,1) translate(-24.96,0)" style="font-family:'Liberation Sans';font-size:11.05px;font-weight:normal;stroke:#231f20;stroke-width:0.18px" fill="#231f20">Nitric Acid</text>
<text transform="translate(1383.50,854.00) scale(0.8231,1) translate(-38.22,0)" style="font-family:'Liberation Sans';font-size:11.05px;font-weight:normal;stroke:#231f20;stroke-width:0.18px" fill="#231f20">Strong Oxidizer</text>
<text transform="translate(1480.50,854.00) scale(0.8921,1) translate(-12.40,0)" style="font-family:'Liberation Sans';font-size:11.05px;font-weight:normal;stroke:#231f20;stroke-width:0.18px" fill="#231f20">Urea</text>
<text transform="translate(994.75,875.30) scale(0.8268,1) translate(-56.57,0)" style="font-family:'Liberation Sans';font-size:11.05px;font-weight:normal;stroke:#231f20;stroke-width:0.18px" fill="#231f20">Applicable temperature</text>
<text transform="translate(1224.90,877.60) scale(1.1092,1) translate(-0.46,0)" style="font-family:'Liberation Sans';font-size:15px;font-weight:normal" fill="#a0a0a0">≤</text>
<text transform="translate(1234.90,875.70) scale(0.9459,1) translate(-0.56,0)" style="font-family:'Liberation Sans';font-size:11.05px;font-weight:normal;stroke:#231f20;stroke-width:0.18px" fill="#231f20">200</text>
<text transform="translate(1252.40,877.60) scale(0.9341,1) translate(-0.52,0)" style="font-family:'Liberation Sans';font-size:10.32px;font-weight:normal" fill="#8a8a8a">C</text>
<text transform="translate(1259.50,875.70) scale(0.9264,1) translate(-0.69,0)" style="font-family:'Liberation Sans';font-size:11.05px;font-weight:normal;stroke:#231f20;stroke-width:0.18px" fill="#231f20">(PTFE)</text>
<text transform="translate(1295.40,877.60) scale(1.1640,1) translate(-0.46,0)" style="font-family:'Liberation Sans';font-size:15px;font-weight:normal" fill="#a0a0a0">≤</text>
<text transform="translate(1305.30,875.70) scale(0.9230,1) translate(-0.56,0)" style="font-family:'Liberation Sans';font-size:11.05px;font-weight:normal;stroke:#231f20;stroke-width:0.18px" fill="#231f20">250</text>
<text transform="translate(1322.90,877.60) scale(0.9341,1) translate(-0.52,0)" style="font-family:'Liberation Sans';font-size:10.32px;font-weight:normal" fill="#8a8a8a">C</text>
<text transform="translate(1330.00,875.70) scale(0.9305,1) translate(-0.69,0)" style="font-family:'Liberation Sans';font-size:11.05px;font-weight:normal;stroke:#231f20;stroke-width:0.18px" fill="#231f20">(PPL)</text>
<text transform="translate(945.35,897.50) scale(0.7610,1) translate(-64.58,0)" style="font-family:'Liberation Sans';font-size:11.05px;font-weight:normal;stroke:#231f20;stroke-width:0.18px" fill="#231f20">Design and manufacturing</text>
<text transform="translate(1286.65,899.30) scale(0.8092,1) translate(-19.42,0)" style="font-family:'Liberation Sans';font-size:11.05px;font-weight:normal;stroke:#231f20;stroke-width:0.18px" fill="#231f20">API 608</text>
<text transform="translate(945.15,921.80) scale(0.7597,1) translate(-60.73,0)" style="font-family:'Liberation Sans';font-size:11.05px;font-weight:normal;stroke:#231f20;stroke-width:0.18px" fill="#231f20">Face-to-face dimensions</text>
<text transform="translate(1286.85,922.50) scale(0.8414,1) translate(-34.49,0)" style="font-family:'Liberation Sans';font-size:11.05px;font-weight:normal;stroke:#231f20;stroke-width:0.18px" fill="#231f20">ASME B16.10</text>
<text transform="translate(944.55,944.00) scale(0.7301,1) translate(-46.13,0)" style="font-family:'Liberation Sans';font-size:11.05px;font-weight:normal;stroke:#231f20;stroke-width:0.18px" fill="#231f20">Type of connection</text>
<text transform="translate(1092.25,945.00) scale(0.9481,1) translate(-17.10,0)" style="font-family:'Liberation Sans';font-size:11.05px;font-weight:normal;stroke:#231f20;stroke-width:0.18px" fill="#231f20">Flange</text>
<text transform="translate(1237.65,945.00) scale(0.8238,1) translate(-31.40,0)" style="font-family:'Liberation Sans';font-size:11.05px;font-weight:normal;stroke:#231f20;stroke-width:0.18px" fill="#231f20">ASME B16.5</text>
<text transform="translate(1384.35,945.00) scale(0.9334,1) translate(-14.46,0)" style="font-family:'Liberation Sans';font-size:11.05px;font-weight:normal;stroke:#231f20;stroke-width:0.18px" fill="#231f20">Wafer</text>
<text transform="translate(1481.25,945.00) scale(0.8349,1) translate(-31.40,0)" style="font-family:'Liberation Sans';font-size:11.05px;font-weight:normal;stroke:#231f20;stroke-width:0.18px" fill="#231f20">ASME B16.5</text>
<text transform="translate(947.05,966.90) scale(0.7942,1) translate(-32.95,0)" style="font-family:'Liberation Sans';font-size:11.05px;font-weight:normal;stroke:#231f20;stroke-width:0.18px" fill="#231f20">Pressure test</text>
<text transform="translate(1286.65,967.40) scale(0.8092,1) translate(-19.42,0)" style="font-family:'Liberation Sans';font-size:11.05px;font-weight:normal;stroke:#231f20;stroke-width:0.18px" fill="#231f20">API 598</text>
<text transform="translate(947.90,989.80) scale(0.7938,1) translate(-47.87,0)" style="font-family:'Liberation Sans';font-size:11.05px;font-weight:normal;stroke:#231f20;stroke-width:0.18px" fill="#231f20">Transmission mode</text>
<text transform="translate(1286.00,988.70) scale(0.7812,1) translate(-155.02,0)" style="font-family:'Liberation Sans';font-size:11.05px;font-weight:normal;stroke:#231f20;stroke-width:0.18px" fill="#231f20">Manual, worm and worm gear transmission, pneumatic, electric</text>
<text transform="translate(600.50,309.90) scale(0.9630,1) translate(-5.76,0)" style="font-family:'Liberation Sans';font-size:12.21px;font-weight:normal" fill="#5a5a5a">W</text>
<text transform="translate(523.60,573.00) scale(0.7770,1) translate(-4.29,0)" style="font-family:'Liberation Serif';font-size:14.81px;font-weight:normal" fill="#555">L</text>
<text transform="translate(592.85,561.00) scale(1.2955,1) translate(-3.33,0)" style="font-family:'Liberation Sans';font-size:11.5px;font-weight:normal" fill="#3a3a3a">b</text>
<text transform="translate(607.50,562.00) scale(1.2254,1) translate(-2.46,0)" style="font-family:'Liberation Serif';font-size:13.5px;font-weight:normal" fill="#999">f</text>
<text transform="translate(685.50,404.60) rotate(-90) scale(0.6885,1) translate(-0.48,0)" style="font-family:'Liberation Serif';font-size:16.64px;font-weight:normal" fill="#555">H</text>
<text transform="translate(666.10,469.30) rotate(-90) scale(0.6590,1) translate(-0.45,0)" style="font-family:'Liberation Serif';font-size:15.57px;font-weight:normal" fill="#555">D</text>
<text transform="translate(649.50,469.30) rotate(-90) scale(0.6124,1) translate(-0.45,0)" style="font-family:'Liberation Serif';font-size:15.57px;font-weight:normal" fill="#555">D1</text>
<text transform="translate(634.20,469.30) rotate(-90) scale(0.7227,1) translate(-0.45,0)" style="font-family:'Liberation Serif';font-size:15.57px;font-weight:normal" fill="#555">D2</text>
<text transform="translate(617.30,466.20) rotate(-90) scale(1.0078,1) translate(-0.52,0)" style="font-family:'Liberation Serif';font-size:14.5px;font-weight:normal" fill="#555">d</text>
<text transform="translate(577.00,540.00) rotate(-90) scale(1.3801,1) translate(-0.29,0)" style="font-family:'Liberation Serif';font-size:12.5px;font-weight:normal" fill="#555">n-Φd</text>
<text transform="translate(1073.20,346.20) scale(0.7809,1) translate(-34.53,0)" style="font-family:'Liberation Sans';font-size:7.27px;font-weight:normal" fill="#444">High efficiency tubing</text>
<text transform="translate(972.30,416.90) scale(0.8081,1) translate(-27.33,0)" style="font-family:'Liberation Sans';font-size:7.27px;font-weight:normal" fill="#444">Horizontal tubing</text>
<text transform="translate(952.10,461.00) scale(0.7837,1) translate(-8.02,0)" style="font-family:'Liberation Sans';font-size:8.14px;font-weight:normal" fill="#444">Inlet</text>
<text transform="translate(1067.65,569.50) scale(0.7769,1) translate(-14.33,0)" style="font-family:'Liberation Sans';font-size:7.56px;font-weight:normal" fill="#444">Blocking</text>
<text transform="translate(1325.50,349.20) scale(0.8090,1) translate(-33.72,0)" style="font-family:'Liberation Sans';font-size:7.27px;font-weight:normal" fill="#444">Low efficiency tubing</text>
<text transform="translate(1249.70,416.20) scale(0.7931,1) translate(-27.33,0)" style="font-family:'Liberation Sans';font-size:7.27px;font-weight:normal" fill="#444">Horizontal tubing</text>
<text transform="translate(1204.65,457.30) scale(0.7768,1) translate(-8.02,0)" style="font-family:'Liberation Sans';font-size:8.14px;font-weight:normal" fill="#444">Inlet</text>
<text transform="translate(1322.35,574.20) scale(0.8569,1) translate(-10.22,0)" style="font-family:'Liberation Sans';font-size:7.56px;font-weight:normal" fill="#444">Outlet</text>
</svg></body></html>
